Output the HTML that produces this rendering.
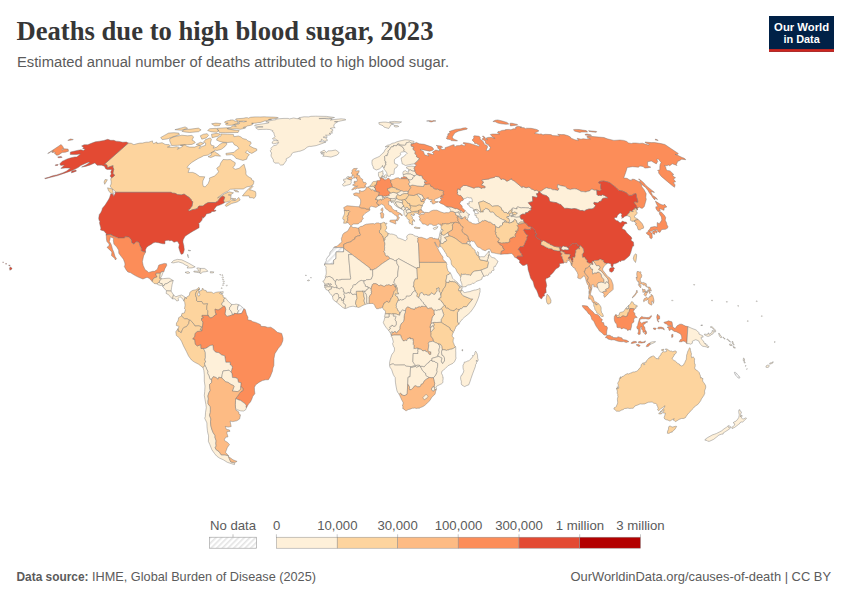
<!DOCTYPE html>
<html><head><meta charset="utf-8"><title>Deaths due to high blood sugar, 2023</title>
<style>
html,body{margin:0;padding:0;background:#fff;}
body{width:850px;height:600px;overflow:hidden;position:relative;font-family:"Liberation Sans",sans-serif;}
svg{position:absolute;left:0;top:0;}
text{font-family:"Liberation Sans",sans-serif;}
.title{font-family:"Liberation Serif",serif;font-weight:bold;font-size:26.6px;fill:#363636;}
.lg{font-size:13.2px;fill:#5b5b5b;}
.ft{font-size:13px;fill:#5b5b5b;}
</style></head><body>
<svg width="850" height="600" viewBox="0 0 850 600">
<defs>
<pattern id="hatch" width="4" height="4" patternUnits="userSpaceOnUse" patternTransform="rotate(45)"><rect width="4" height="4" fill="#fff"/><rect width="1.6" height="4" fill="#e4e4e4"/></pattern>
</defs>
<rect width="850" height="600" fill="#fff"/>
<text class="title" x="16.5" y="40.2" textLength="417" lengthAdjust="spacingAndGlyphs">Deaths due to high blood sugar, 2023</text>
<text x="17" y="66.5" font-size="14.7" fill="#5b5b5b" textLength="432" lengthAdjust="spacingAndGlyphs">Estimated annual number of deaths attributed to high blood sugar.</text>
<!-- logo -->
<g>
<rect x="769" y="16" width="65" height="35.8" fill="#002147"/>
<rect x="769" y="49.1" width="65" height="2.7" fill="#ce261e"/>
<text x="801.6" y="30.8" text-anchor="middle" font-size="11.6" font-weight="bold" fill="#fff" textLength="55" lengthAdjust="spacingAndGlyphs">Our World</text>
<text x="801.6" y="42.7" text-anchor="middle" font-size="11.6" font-weight="bold" fill="#fff" textLength="36.4" lengthAdjust="spacingAndGlyphs">in Data</text>
</g>
<!-- map -->
<g stroke="#6e6e6e" stroke-width="0.42" stroke-linejoin="round">
<path fill="#fdd49e" d="M128.3 143.1L131.3 143.3L133.9 144.7L136.6 143.8L139.9 143.1L142.4 143.1L146 142.2L148.5 142.2L152.5 140.9L152.6 142.2L153.6 143.6L157 142L156.9 143.6L162.1 142.7L165.2 144.4L169.2 144.7L170.4 146L167.4 147.1L172.5 147.3L176.5 146.7L179.3 147.3L177.4 149.3L180.8 147.5L183.2 145.8L180.3 145.3L185.1 144.7L186.9 146.4L189.7 147.1L194.8 147.1L197.6 145.8L198.8 145.3L200.6 146.2L199 148.2L199.6 148.9L201.4 146.7L205.5 145.3L205.7 143.1L203.5 142.2L205.5 139.6L210.3 137.9L211.4 139.4L210.6 142.2L210.5 143.3L211.4 145.3L214.3 146L213 148.2L216.9 147.1L219.7 144.4L222.7 142.7L226.7 142.9L226.7 144.4L224.8 146.7L221.3 149.3L217 150.5L214.8 150L214 151.2L210.9 153L208.1 155.1L203.7 155.7L201.6 156.9L198.2 158.5L195 160.4L191.7 162.5L188.6 165.2L187 167.6L187.6 168L189.7 168.3L188 172.4L192.7 172.4L195.7 173.6L199.8 176.6L204.8 176.8L202.8 181L202.7 184L203.4 186.5L205.3 186.8L208.2 183.5L209.7 179.8L209.4 178.1L214.4 176.1L217.2 173.6L218.6 171.7L216.7 168.3L220 165.6L220.5 163.3L223.1 159.5L227.1 159.7L230.4 159.5L232.6 161.1L235.3 162.8L234.9 165.2L232.9 167.6L235.2 169.3L239.1 168.3L242.2 165.6L244.1 164.2L244.5 165.9L245.4 168.8L246 171.7L245.9 174.1L247.4 176.1L249.4 177.3L251.4 178.3L251.6 179.8L253.9 181L253.6 183.5L253 184.8L250.3 186.3L247 186.8L243.2 189L239.2 189L235.2 189L230.3 189.3L227.3 191.6L224.7 192.6L221.7 194.6L217.5 197.9L220.4 196.6L224.4 193.8L229.2 191.8L233.5 192.8L230.6 194.9L228.3 194.9L231.2 195.4L230.8 197.2L230.7 199.5L231.9 200.2L235.7 200.5L238.7 197.4L240.2 200L237.1 202L231.5 203.6L226.5 206.4L225.2 205.6L226.7 203.6L230.2 201.8L229.6 201L226.8 202L224.6 202.3L224 201.8L223.6 200.5L224.7 197.2L223.9 196.5L222.2 196.3L219.9 198.2L218.5 200.2L217 201.8L215.3 202.5L208.7 202.5L207.2 203L204.6 204.6L203 206.1L199 206.1L198.1 206.9L197.9 208.2L195.2 209.2L192.3 209.7L189.5 211L188.3 210.3L188.5 209.7L190.1 208.7L190.7 207.7L192 206.1L192.8 201.8L191.3 200.5L191.4 199.7L190 198.7L189.6 197.7L187 196.1L184.1 194.1L181.3 194.9L177.5 194.6L175.1 193.3L172 193.1L171.2 192.3L114.6 192.3L115.5 191.6L113.3 189.8L111.3 187.8L110.1 186L111.2 184L111.2 181.5L110.7 179L111.3 177.8L113.2 176.8L114.7 175.1L112.8 173.5L113.4 170.7L113.8 169L113.1 167.9L112.8 166.9L113.1 165.7L110.4 166.5L107.3 167.8L107.2 166.2L107 165.2L105.9 164.5L104.2 164.4ZM107.5 187.8L112.4 189L113.4 193.8L110.6 193.1L108.6 190.8ZM105.1 179.5L107.4 179.8L104.7 184.3L104 182ZM242.4 195.9L245.3 192.3L248.8 188.5L252.4 185.8L253 186.5L249.5 190L251.1 190L255.4 191.6L255.9 193.3L255.8 196.1L254.1 198.4L252.3 197.7L249.6 197.7L249.1 195.9L246.1 195.9ZM231.3 198.2L236 198.8L234.4 200L232.2 199.2ZM233.8 190L237.6 190.8L238.8 192.1L235.3 191.6ZM221.1 133.9L227.3 134.2L233.4 134.4L233.9 136.7L238.4 136L240.9 136.9L242.9 138.6L246.4 139.4L247.9 140.9L250.6 141.8L251.2 143.6L249.2 145.5L253 147.8L256.7 148.9L256.8 150.5L251.8 153.4L248.9 152.3L247.3 150.5L245.4 152.3L249.4 154.6L247.4 156.9L246.7 159.2L242.9 160.4L239.8 159.5L235.9 158.3L234.4 156.2L231.8 154.6L226.3 155.1L225.9 153.4L234.1 152.3L236.3 150L239 148.4L237.1 146L234.5 144.9L232.6 142L227.8 142.5L223 142.2L219.6 141.4L216.5 140.1L217.5 137.9L221 135.8ZM211.3 152.5L214.7 151.4L216.3 152.8L218.8 154.4L220.6 156.2L215.2 155.7L210.8 157.6L208 156.7L211.1 155.3ZM169.7 140.9L170.9 143.8L171.6 145.5L177.7 145.3L185.1 144.7L187.6 144.7L192 144.4L195.3 142.7L194.2 141.2L192 140.1L193.6 136.9L191.9 135.4L187.5 135.8L181.8 135.2L173.5 136.9L169.7 138.8ZM160.7 137.5L162.2 139.6L167 139L175.3 136L179.4 134.6L178.8 133.1L173.9 132.7L168.6 133.1L164.4 135.4ZM200.3 135.8L201.8 139.2L206.2 137.9L208.6 135.4L207.2 133.7L203.6 134.2ZM211.5 134.2L212.1 137.7L218.2 136.2L220.5 134.2L217 133.3ZM196.2 144.4L200.3 145.5L203.8 143.3L200.6 142.2ZM181.9 131.3L184.3 131.9L189.7 132.5L198.5 131.7L201.1 129.9L198.4 128.1L191 129.1L184.1 129.7ZM207.6 130.5L210.9 131.7L216.5 132.3L218.7 130.9L216.3 128.3L209.8 128.7ZM174.9 129.7L181.7 130.3L187.6 128.3L185.1 126.9ZM217.1 128.3L219.4 132.5L225.4 132.7L238.1 132.5L239.2 130.5L234.2 130.1L227.8 128.9L227.6 127.7ZM278.2 117.7L277.8 118.1L273.8 118.8L270.1 119.1L268.5 119.5L271.5 119.5L267.3 120.5L264.5 121L260.7 122.4L257.5 122.7L256.2 123.1L251.6 123.3L253.4 123.5L252 123.8L252.4 124.7L250.3 125.4L247.5 125.9L246 126.7L243.4 127.3L243.1 127.7L245.8 127.6L245.4 128.1L240.2 129.3L236.7 128.8L232 129.1L229.9 128.8L227.2 128.7L228 127.8L231.3 127.3L232.1 125.9L233.2 125.8L236.2 126.6L235.6 125.4L233.6 125L235.6 124.3L238.5 124L239.8 123.2L238.6 122.5L239 121.6L242.8 121.7L243.7 121.9L246.6 121.3L243.7 121.1L238.6 121.2L236.8 120.6L236.5 119.9L235.4 119.4L235.9 118.9L238.3 118.6L240 118.5L243.1 118.3L245.8 117.7L247.4 117.7L248.4 118.2L250.4 117.3L252.5 117.1L255.2 116.9L259.4 116.9L259.9 117L264.1 116.8L267 116.9L269.8 117L273.3 117.1L276.1 117.3ZM234 120.8L237.9 121.5L237.7 122.7L238.7 123.2L236.1 123.8L231.8 125.2L229.1 125.3L226.3 125.1L225.6 124.3L226.5 123.6L228.2 123.2L225.6 123.2L224.7 122.6L224.8 121.8L226.8 121L228.5 120.5L230.1 120.4L230 120L233.4 119.9L234 120.8ZM211.6 123.8L214.7 125.9L219.4 125.7L220.8 123.5L215.5 123.1Z"/>
<path fill="#e34a33" d="M110.8 193.8L113.4 194.5L113.6 196.4L115 193.8L115.6 192.3L171.2 192.3L172 193.1L175.1 193.3L177.5 194.6L181.3 194.9L184.1 194.1L187 196.1L189.6 197.7L190 198.7L191.4 199.7L191.3 200.5L192.8 201.8L192 206.1L190.7 207.7L190.1 208.7L188.5 209.7L188.3 210.3L189.5 211L192.3 209.7L195.2 209.2L197.9 208.2L198.1 206.9L199 206.1L203 206.1L204.6 204.6L207.2 203L208.7 202.5L215.3 202.5L217 201.8L218.5 200.2L219.9 198.2L222.2 196.3L223.9 196.5L224.7 197.2L223.6 200.5L224 201.8L224.5 202.8L222 204.1L219.6 205.1L216.7 206.1L215.1 207.9L214 209.5L214.5 210.5L215.9 210.1L215.7 211L214.2 211.5L212.5 211.5L211.1 212.1L211.1 212.7L208.5 213.5L206.3 213.9L206.1 214.4L205.3 216.2L203 218.2L202.2 216.7L202.4 218.8L201.7 220.6L199.5 223L198.6 223.2L199.1 224.3L199.1 227.7L196.5 229.2L192.9 231.3L190.1 232.9L187.8 234.4L185.1 236.3L183.2 239.7L182.9 242L183.8 245.4L184.3 249.8L183.5 252.7L182.7 254L181.1 254.3L180 251.7L179.4 249.8L178.7 247.5L179.3 244.6L178.2 242.5L177.1 241.2L174 242.3L171.8 240.4L169.5 240.7L168.5 240.2L166.3 240.4L164.8 241L165 242L165 243.8L162.8 243.8L160.5 243.3L158.4 242.7L155.2 242.3L153 243.1L151.1 244.4L148.3 245.9L146.4 247.8L145.5 249.8L145.6 252.1L143.3 251.7L141.4 250.9L141.2 248L139.9 245.9L139.2 243.2L138.4 242.1L136.5 241.8L135.5 242.3L134 244.2L131.6 242.7L131.3 239.9L128.7 236.9L124.9 236.8L124.6 238L118.2 238L111.1 235L111.4 234.4L106 234.9L106.2 233.4L104.4 231.7L104.4 231.1L103 230.7L100.5 229.9L100.9 228.1L99.8 224.3L99.5 222.7L100 221.1L99.1 220.6L98.7 218.3L99.3 214.5L100.7 212.8L101.9 210.3L102.4 208.2L105.1 205.1L108.6 199.5L109.5 197.7ZM128.3 143.1L126.4 142L122.8 142.2L119 141.4L116 141.2L113.9 140.3L110.6 140.3L107.8 139.3L103.8 140.5L99.5 141.2L95.3 141.8L91.3 143.3L87.8 144.7L84.1 144.7L81.6 146L83.7 147.5L82.7 148.7L85.3 148.9L83.5 150.5L81 149.8L78.3 150.2L70.4 152.1L70.2 154.4L71.8 154.6L76 154.6L80.4 153.9L78.4 155.7L76.6 156.9L74.8 156.9L71 157.8L67.1 159L62 161.4L59.7 164L60.8 165.4L64.5 164.9L61.9 167.6L60.8 168.4L65.1 168L67.9 168L70.4 168.3L66.3 171.2L62.5 172.9L56.6 174.9L52.7 175.8L48.6 177.3L44.7 178.3L45.1 178.7L48.2 178.1L50 177.4L53.8 176.6L57.7 175.6L62.4 173.9L66.8 172.4L71.5 170.7L75.2 169L78.1 167.6L80.8 165.6L84.7 163.7L88.2 162.3L90 162.3L86.4 164.7L81.6 167.1L85.5 166.4L89.6 165.2L94.7 163L95.7 163.7L97 165.2L101.6 165.2L104.4 166.3L105.7 168.8L107.2 169.5L110.2 169.5L111.8 169.7L110.7 172L111.3 173.9L110 176.1L111 176.9L111.3 177.8L113.2 176.8L114.7 175.1L112.8 173.5L113.4 170.7L113.8 169L113.1 167.9L112.8 166.9L113.1 165.7L110.4 166.5L107.3 167.8L107.2 166.2L107 165.2L105.9 164.5L104.2 164.4ZM71.8 170.9L76 170L76.3 171.2L71.4 172.9ZM57.6 156.9L61.2 156.4L62.1 157.4L58.5 157.8ZM55.6 164.7L58.2 164.5L57.6 165.4L55.3 165.6ZM9.5 268.2L10.2 266.9L11.9 268.1L12 268.9L9.9 270.3ZM8.7 265.1L10.3 265.4L9.2 266ZM5.6 263.6L6.8 263.8L5.8 264.2ZM2.6 262L3.6 262L3.1 262.6Z"/>
<path fill="#fc8d59" d="M106 234.9L111.4 234.4L111.1 235L118.2 238L124.6 238L124.9 236.8L128.7 236.9L131.3 239.9L131.6 242.7L134 244.2L135.5 242.3L136.5 241.8L138.4 242.1L139.2 243.2L139.9 245.9L141.2 248L141.4 250.9L143.3 251.7L145.6 252.1L143.6 255.9L142.4 261.6L143.2 265.5L145.1 269.7L147.4 271.3L148.6 272.4L152.8 271.3L154.6 271.3L157.4 269.2L158.6 265.5L158.9 265L164.3 263.4L166.5 263.7L166.7 265.5L164.7 268.9L163.8 272L163 271.5L162.5 271.5L160.4 272.9L160.4 273.3L156.2 273.3L156 274.8L157.1 277L154.7 277.8L154 277.9L152.6 280L152.4 281.8L149.8 278.8L147.7 277.5L146.5 277.5L142.9 279L138.6 277.3L135.6 275.8L131.8 273.6L130.8 272.8L127.9 272L126.2 269.9L124.3 266.6L125 265L124.8 262.9L123.4 259.2L120.9 256.1L118.8 253.2L118.6 250.1L116.7 247L113.9 244.1L113.3 240.2L113.7 238.4L111.9 237.6L110.4 236.8L110 238.9L109.4 241.5L111 244.1L111.9 246.7L112.5 249.3L113.7 251.9L114.6 255.1L115.1 256.6L116.5 258.7L115.4 260L114.8 258.5L111.5 255.6L111.9 251.9L109.5 249.8L107 247.2L109 245.9L109.2 244.1L106.9 241.5L106.4 238.9L106.3 236.5Z"/>
<path fill="#fdd49e" d="M152.4 281.8L152.6 280L154 277.9L154.7 277.8L157.1 277L156 274.8L156.2 273.3L160.4 273.3L159.7 278.3L160.3 278.3L161.9 278.8L160.1 280.1L159.2 282.2L158.3 282.7L157 283.9L154.1 283.5Z"/>
<path fill="#fef0d9" d="M160.4 272.9L162.5 271.5L162.9 272.6L162 275.4L160.3 278.3L159.7 278.3Z"/>
<path fill="#fef0d9" d="M157 283.9L158.3 282.7L158.9 282.2L160.7 283.4L162.3 283.6L162.4 285.1L160.5 285.5L157.7 284.6Z"/>
<path fill="#fef0d9" d="M158.9 282.2L159.2 282.2L160.1 280.1L161.9 278.8L163.5 278.6L167 278.3L169.2 278.2L172.7 280.1L173.2 280.6L170.1 281.4L167.1 283.5L164.8 284L163.9 285.9L163 286L162.4 285.1L162.3 283.6L160.7 283.4Z"/>
<path fill="#fef0d9" d="M173.2 280.6L172.1 284.6L171.6 287.4L171.1 291.1L166.5 290.8L164.8 289L162.3 286.1L163 286L163.9 285.9L164.8 284L167.1 283.5L170.1 281.4Z"/>
<path fill="#fef0d9" d="M171.1 291.1L173.5 294.9L172.5 298.8L170.9 297.6L168.6 294.7L166.1 293.4L166.5 290.8Z"/>
<path fill="#fef0d9" d="M173.5 294.9L175.8 296.8L179.3 295.5L181.6 295L185.2 297.2L183.9 301L182.8 298.9L179.9 296.6L178.2 298.4L178.6 300.5L176.7 301L175.2 298.9L172.5 298.8Z"/>
<path fill="#fef0d9" d="M171.4 262.6L173.7 260.5L177.4 259.4L181.7 259.8L184.9 261.3L188.7 263.2L191.9 265L195.2 266.9L192 267.9L187 268L188.3 266.3L185.5 265L182.6 263.2L178.5 261.9L175.7 262.4L173.4 262.9Z"/>
<path fill="#fef0d9" d="M193.8 271.9L196.3 272.3L200 272.8L200.4 268.4L198.1 267.9L196.7 268.1L197.9 269.4L198.7 271.3L193.9 271.1Z"/>
<path fill="#fef0d9" d="M200.4 268.4L204.4 268.4L206.5 269.7L207.9 271.3L205.2 271.8L202.4 272L200.7 273.9L200 272.8Z"/>
<path fill="#fef0d9" d="M185 272.3L188.2 271.6L189.9 272.8L187.5 273.5Z"/>
<path fill="#fef0d9" d="M210.4 271.6L213.9 271.9L213.3 272.9L210.3 272.9Z"/>
<path fill="#fef0d9" d="M188.1 250.1L190.7 250.6L188.8 250.9ZM187.6 254.3L188.4 256.4L187.7 256.6ZM188.1 257.2L188.7 257.7L188.4 256.9Z"/>
<path fill="#fef0d9" d="M221 291.9L223.2 291.6L223 293.4L221 293.6Z"/>
<path fill="#fef0d9" d="M254.5 125.7L255.5 124.9L261.8 124L267.9 123.1L269.1 122.5L265.8 121.8L267.6 121.2L273.6 120L275.8 119.8L275.9 119.1L279.5 118.7L284 118.4L288.2 118.4L289.4 118.9L293.7 118L296.6 118.6L298.4 118.7L301 119.3L298.2 118.4L298.9 117.7L304.1 116.8L308.8 116.9L310.9 116.3L315.7 116.2L326.4 116.4L334.5 117.5L331.7 118.2L326.4 118.2L318.9 118.4L319.5 118.7L324.5 118.5L328.5 119L331.3 118.6L332.3 119.1L330.4 120.1L334.2 119.5L341.1 118.8L345.2 119.2L345.9 119.9L339.9 121.1L339 121.5L334.4 121.7L337.7 121.8L335.7 123.1L334.2 124.3L333.7 126.4L335.2 127.7L332.8 127.8L330.2 128.4L332.7 129.5L332.7 131.2L331 131.4L332.6 133.1L329.1 133.3L330.8 134.1L330.1 134.9L327.8 135.2L325.5 135.2L327.2 136.6L327 137.6L324.1 136.7L323.1 137.2L325.2 137.8L327 139.1L327.3 140.8L324.2 141.2L323.1 140.4L321.4 139.2L321.6 140.6L319.4 141.7L323.8 141.9L326 142L321.2 143.9L316.2 145.6L311.1 146.4L309.2 146.4L307.2 147.2L304.2 149.6L300 151.2L298.8 151.3L296.3 151.9L293.6 152.4L291.6 153.8L291.1 155.4L289.7 157L286.2 158.8L286.3 160.7L284.9 162.6L283.2 164.9L280.6 165.1L278.5 163.1L274.9 163.1L273.6 161.8L273.2 159.5L271.3 156.6L271 155.1L271.6 153L270.1 150.9L271.5 149.3L270.7 148.5L273.5 145.8L276.4 145L277.5 144.1L278.7 142.4L276.4 143.2L275.3 143.5L273.7 143.8L272 143.1L272.6 141.6L273.8 140.5L275.4 140.4L278.4 141L276.3 139.6L275.2 138.9L273.4 139.2L272.4 138.7L275.2 136.7L274.7 135.9L274.2 134.5L273.7 132.3L272.2 131.5L272.8 130.6L269.5 129.5L266.3 129.3L262.2 129.4L258.4 129.6L257.1 128.9L255.6 127.7L260 127.1L263.1 126.9L257.2 126.4Z"/>
<path fill="#fef0d9" d="M320.3 152.3L324.2 150.1L326.4 152.5L327.9 150.9L331.9 150.7L335.4 150L337.7 151.2L339.2 153L336.9 155.1L330.9 157.1L326.6 156.4L322.7 156.2L324.2 154.8L320.9 153.7L324.6 152.8Z"/>
<path fill="#fdd49e" d="M185.2 297.2L186.5 298.9L186.3 297.4L189.4 295.3L189.8 292.4L191.5 291.1L192.9 290.3L195.7 289.8L197.6 288.7L198.8 287.3L199.7 289L198 289.8L196.8 290.8L195.4 294.2L195.8 296L196.6 297.9L196.5 300.5L197.6 301.5L201.8 301.5L203.3 303.9L207.7 303.6L206.9 306L206.8 309.4L208 310.9L207.7 314.1L208.8 316.7L208.3 315.4L202.1 315.4L202.1 316.9L203.5 317.2L203 318.2L201.6 318.4L201.5 320.3L202.5 321.1L203 322.7L201.9 330.8L201.1 329.7L200.1 329.7L201.6 326.8L198.4 325.8L195 326.1L193.1 323.2L190.5 320.3L189.4 320.1L188.7 319.7L187.1 318.8L184.6 318.8L183.2 317.6L181.4 316L181.9 313.5L184.4 313L185.4 309.6L184.5 308.8L185.1 305.2L184.7 302.3L183.9 301Z"/>
<path fill="#fdd49e" d="M199.6 289.1L199.5 289.7L198.1 290L198.8 291.2L198.7 292.5L197.6 294L198.3 296.1L199.4 295.9L200 294.1L199.3 293.1L199.3 291.2L202.2 290.1L202 288.9L202.8 288.1L203.5 289.9L206.2 290.6L206.6 292.1L209.3 292.1L211.4 292.1L213.6 293.4L215.5 292.4L218.5 291.9L221 291.9L219.4 293.4L223 295L223.3 297.4L225.4 297.9L223.4 300L224.3 301.3L222.5 302.3L221.7 304.3L223.3 306.2L221.6 308.1L218.1 310.1L215.1 309.1L215.5 313.3L216.9 314.1L215.5 314.7L212 317.7L210.2 317.8L208.8 316.7L208.8 316.7L207.7 314.1L208 310.9L206.8 309.4L206.9 306L207.7 303.6L203.3 303.9L201.8 301.5L197.6 301.5L196.5 300.5L196.6 297.9L195.8 296L195.4 294.2L196.8 290.8L198 289.8L199.7 289Z"/>
<path fill="#fef0d9" d="M225.4 297.9L228.5 301.8L231.4 304.1L231.6 304.4L231.1 306L229.7 307.3L229.4 309.4L231 310.9L232.8 314.7L229.3 315.9L227.2 316.4L225.4 315.1L225 313.5L225.7 309.6L225.5 308.3L224.6 306.2L223.3 306.2L223.3 306.2L221.7 304.3L222.5 302.3L224.3 301.3L223.4 300L225.4 297.9Z"/>
<path fill="#fef0d9" d="M231.6 304.4L234.1 304.5L236.2 304.1L238.7 304.7L237.8 306.7L237.5 309.4L238.6 310.7L237.2 313.8L234.2 313.3L233.9 314.8L232.8 314.7L232.8 314.7L231 310.9L229.4 309.4L229.7 307.3L231.1 306L231.6 304.4Z"/>
<path fill="url(#hatch)" d="M238.7 304.7L241.2 306.2L244 308.8L241.8 313.3L239 313.8L237.2 313.8L237.2 313.8L238.6 310.7L237.5 309.4L237.8 306.7L238.7 304.7Z"/>
<path fill="#fdd49e" d="M181.4 316L178.6 317.7L178.3 319.8L177.4 322.1L176.5 322.7L176.3 325.5L178.6 326.3L179.1 326.6L178 328.7L178.1 331.3L179.7 331.5L181.1 332.9L182.4 329.7L183.7 327.6L186.5 326.6L188.7 323.7L189.4 320.1L188.7 319.7L187.1 318.8L184.6 318.8L183.2 317.6L181.4 316Z"/>
<path fill="#fdd49e" d="M178 328.7L175.8 331.8L176.4 335.5L179.2 337.8L181.5 341.2L183.5 345.9L186.3 351.3L188.6 356.1L191.5 360L194.4 362.1L198.5 364.2L200.9 366L203.1 367.7L205 365.5L204.5 362.9L205.8 362.1L204.9 359.7L205.4 357.6L205.3 352.4L203.5 348.4L201.1 348.5L200.9 344.6L197.3 345.9L195.4 344.3L194.7 339.1L192.9 339.1L193.5 337.8L194.8 336.8L195.2 333.4L197.4 331.5L201.8 331L201.9 330.8L201.1 329.7L200.1 329.7L201.6 326.8L198.4 325.8L195 326.1L193.1 323.2L190.5 320.3L189.4 320.1L189.4 320.1L188.7 323.7L186.5 326.6L183.7 327.6L182.4 329.7L181.1 332.9L179.7 331.5L178.1 331.3L178 328.7Z"/>
<path fill="#fc8d59" d="M244 308.8L245.3 309.6L246.6 314.6L248 317.2L247.7 319.8L251.4 320.6L252.3 321.6L255.8 322.4L260.4 324.5L260.9 326.3L265.1 326.6L267.8 327.4L270.8 327.2L274.3 329.5L277.3 332.3L281.7 333.4L283 338.3L282.8 340.9L281.1 345.1L278.2 348.5L274.9 353.7L274 358.4L273.9 365.5L272.9 368.1L272.4 371.5L271.8 372.8L270.4 376.4L268.4 379.7L265.7 379.8L262.4 380.6L258.9 382.4L255.5 385.1L254.4 387.4L254.5 390.3L254.9 393.7L252.8 396.3L251.8 399.2L250.3 402.3L248.5 403.9L246.4 407.9L245.9 406.2L246.3 405.2L244.2 403.1L240.3 400.3L239.4 400.2L235.6 398.6L237.1 396.8L239.1 393.9L240.8 391.6L242.9 390.5L242.9 388.2L240.7 386.6L241 382.7L238.4 382.3L237.7 378.8L235.3 377.7L232.4 377.5L232 373.8L231.2 372.4L231.2 371.5L232.4 367.3L231.6 365.6L230.1 364.7L230.2 362.3L225.8 362.3L224.7 355.8L221.7 355L218.8 352.7L215.6 352.2L213.4 349.8L212.9 345.1L210.1 345.6L207 347.7L205.3 348.5L203.5 348.4L201.1 348.5L200.9 344.6L197.3 345.9L195.4 344.3L194.7 339.1L192.9 339.1L193.5 337.8L194.8 336.8L195.2 333.4L197.4 331.5L201.8 331L201.9 330.8L201.9 330.8L203 322.7L202.5 321.1L201.5 320.3L201.6 318.4L203 318.2L203.5 317.2L202.1 316.9L202.1 315.4L208.3 315.4L208.8 316.7L210.2 317.8L212 317.7L215.5 314.7L216.9 314.1L215.5 313.3L215.1 309.1L218.1 310.1L221.6 308.1L223.3 306.2L223.3 306.2L224.6 306.2L225.5 308.3L225.7 309.6L225 313.5L225.4 315.1L227.2 316.4L229.3 315.9L232.8 314.7L233.9 314.8L234.2 313.3L237.2 313.8L239 313.8L241.8 313.3Z"/>
<path fill="#fef0d9" d="M205 365.5L206 367.3L206.7 369.4L207.8 371L207.6 373.3L209 375.9L210 379.3L211.6 379.3L213.3 376.7L215.9 377.5L218.1 379.3L218.8 377.2L221.7 377.9L222.2 374.6L223 371L229 370.2L231.2 372.4L231.2 371.5L232.4 367.3L231.6 365.6L230.1 364.7L230.2 362.3L225.8 362.3L224.7 355.8L221.7 355L218.8 352.7L215.6 352.2L213.4 349.8L212.9 345.1L210.1 345.6L207 347.7L205.3 348.5L203.5 348.4L203.5 348.4L205.3 352.4L205.4 357.6L204.9 359.7L205.8 362.1L204.5 362.9L205 365.5Z"/>
<path fill="#fef0d9" d="M221.7 377.9L222.2 374.6L223 371L229 370.2L231.2 372.4L231.2 372.4L232 373.8L232.4 377.5L235.3 377.7L237.7 378.8L238.4 382.3L241 382.7L240.7 386.6L240.8 389.2L238.3 391.3L237.3 391.6L232.3 391.1L234 386.6L233.6 385.6L231 384.5L228.1 382.4L225.8 381.9L221.7 377.9Z"/>
<path fill="#fef0d9" d="M246.4 407.9L245.8 409.6L243.7 411L240.8 410.9L237.1 409.7L235.5 408.3L235.3 404.6L235.5 400.7L235.6 398.6L235.6 398.6L239.4 400.2L240.3 400.3L244.2 403.1L246.3 405.2L245.9 406.2L246.4 407.9Z"/>
<path fill="#fef0d9" d="M203.1 367.7L203.9 370.7L204.3 374.6L204.3 381.1L205 386.1L204.7 391.6L204.3 395.5L205 399.4L205.9 404.6L206.3 407.5L205.5 412.5L205.3 416.6L204.7 418.2L206.9 422.9L207 426.8L207.4 430.6L207.8 433L208.6 435.8L208.4 441.4L209.9 444.7L211.9 449.8L214.6 453.6L216.7 456.1L219.5 458.1L223.3 459.8L227.3 462.3L231.8 463.8L234.5 464.6L234.7 463L230.8 462L228.4 456.5L228.5 455.7L225 454.8L221.2 454.8L219.1 451.6L216.3 449.8L215.1 447.8L216.2 446L215.8 443.2L216.2 440.9L214.9 437.1L215.2 435.8L213.2 432.7L211.8 429.3L210.8 425.5L210.5 421.6L210.9 419L209.5 415.3L210.3 412.5L210.4 409.3L210.3 406.7L208.1 403.9L208 401.2L208.4 398.9L207.9 396L208.9 392.9L210.3 390.3L209.8 388.4L209.5 384.5L211.7 382.4L211.6 379.3L211.6 379.3L210 379.3L209 375.9L207.6 373.3L207.8 371L206.7 369.4L206 367.3L205 365.5Z"/>
<path fill="#fdbb84" d="M211.6 379.3L213.3 376.7L215.9 377.5L218.1 379.3L218.8 377.2L221.7 377.9L221.7 377.9L225.8 381.9L228.1 382.4L231 384.5L233.6 385.6L234 386.6L232.3 391.1L237.3 391.6L238.3 391.3L240.8 389.2L240.7 386.6L240.7 386.6L242.9 388.2L242.9 390.5L240.8 391.6L239.1 393.9L237.1 396.8L235.6 398.6L235.6 398.6L235.5 400.7L235.3 404.6L235.5 408.3L235.9 410.1L238.8 411.9L239.1 414.3L240.5 414.8L239.6 419L236.8 420.8L232.7 421.6L230.1 421.1L230.8 424.7L231.2 426.5L228.2 427.1L225.3 426.4L226.3 429.3L229.4 429.9L229.9 431.4L227.2 431.4L226.9 433.2L228 436.8L225.7 437.3L224.4 439.6L224.7 440.7L227.3 442.2L229.5 444.5L227.2 447.8L226.4 450.1L225.5 452.3L228.5 455.7L225 454.8L221.2 454.8L219.1 451.6L216.3 449.8L215.1 447.8L216.2 446L215.8 443.2L216.2 440.9L214.9 437.1L215.2 435.8L213.2 432.7L211.8 429.3L210.8 425.5L210.5 421.6L210.9 419L209.5 415.3L210.3 412.5L210.4 409.3L210.3 406.7L208.1 403.9L208 401.2L208.4 398.9L207.9 396L208.9 392.9L210.3 390.3L209.8 388.4L209.5 384.5L211.7 382.4L211.6 379.3ZM228.4 456.5L230.8 462L235 462.4L237.1 461.4L233 459.8L229.6 457.3Z"/>
<path fill="#fdd49e" d="M344.3 210.6L344.6 213.1L344.1 214.9L343 217L342.7 218.7L343.3 219.6L344.2 219.6L344.1 220.9L343.6 223.2L346 223.2L347.1 222.7L346.9 221.7L348 220.1L347.4 218.8L348.1 217.8L347 216.3L348.3 215.4L348.6 213.1L349.9 211.3L349.1 210.5L347.9 210.5L346 210.8L345.8 210L344.3 210.6Z"/>
<path fill="#fdbb84" d="M344.3 210.6L344.3 209.2L343.6 207.7L345.5 206.6L347 205.7L350.9 206.1L355.1 206.5L359.2 206.8L360.1 207.5L361.5 207.9L364.5 208.2L366.6 209L369.7 209.1L369.9 209.5L369.7 210.5L367.6 211.8L364.9 213.6L362.6 216.2L362.4 217L363.4 218.7L361.9 219.8L361.5 221.7L359.6 222.5L358.3 223.9L355.4 224L353.5 224L351.5 225.4L350.9 225.8L349.4 224.4L349.2 223.8L347.9 222.7L347.1 222.7L346.9 221.7L348 220.1L347.4 218.8L348.1 217.8L347 216.3L348.3 215.4L348.6 213.1L349.9 211.3L349.1 210.5L347.9 210.5L346 210.8L345.8 210L344.3 210.6Z"/>
<path fill="#fdbb84" d="M359.2 206.8L360.5 203.6L360.7 201L360.5 199.5L358.5 196.9L357.3 196.1L354.1 195.4L353.4 193.8L355.9 192.8L359 193.2L359.8 193.2L359.2 190.6L360.4 190.6L360.8 191.4L363.2 191.1L365.8 189.5L366.2 187.5L368.1 187L369.4 187.9L371.4 189.8L372.6 189.4L374.6 190.9L375.9 191.2L379.5 192.4L378.5 195.9L377.3 196.4L375.5 199.5L376.9 198.9L377.4 200.2L377.6 201.8L376.6 202.3L377.5 204.3L379 204.8L378.6 205.7L377.4 206.6L376 207.4L374.1 206.9L372.8 206.6L371.3 206.3L370.3 206.9L369.4 207.9L369.7 209.1L369.7 209.1L366.6 209L364.5 208.2L361.5 207.9L360.1 207.5L359.2 206.8ZM381 209.2L382.5 207.7L383.1 210L382.4 211.8L381.1 210.5Z"/>
<path fill="#fef0d9" d="M368.1 187L369.6 186.3L371.5 186.4L372.9 186.1L374.6 186.9L374.3 187.8L375.2 188L375.8 189L375.2 189.5L374.6 190.9L372.6 189.4L371.4 189.8L369.4 187.9Z"/>
<path fill="#fef0d9" d="M374.6 190.9L375.2 189.5L376 190.3L375.9 191.2Z"/>
<path fill="#fdd49e" d="M369.6 186.3L370.1 185.8L370.9 184.8L372 183.3L372.3 182.4L373.5 181.5L376.5 181.3L377.1 181.8L376.8 183.1L376.2 183.5L376.9 184.1L376.2 185L374.8 185.1L375.3 186.3L374.7 187.2L374.9 187.9L374.3 187.8L374.6 186.9L372.9 186.1L371.5 186.4Z"/>
<path fill="#fc8d59" d="M377.1 181.8L376.8 180.8L378.6 180.5L379.6 180.9L379.7 180L380.5 180L380.2 179L379.7 177.6L382.1 177.8L382.3 178.5L384.1 178.8L384 179.8L385.3 179.8L386.5 179.4L387.2 178.7L388.9 178.2L389.8 179.5L390.6 180L390.9 181.5L390.7 182.6L391.7 183.8L392.2 185.8L392.8 187.3L392.4 187.6L391.4 187.3L388.9 188.5L387.2 189L388 190.3L389.1 191.6L390.9 193L389.3 194.1L389 194.6L389.4 195.6L387.8 195.8L385.4 196.4L384.3 196L383.8 196.6L382.5 196L380.5 195.5L378.5 195.9L379.5 192.4L375.9 191.2L376 190.3L375.2 189.5L375.8 189L375.2 188L374.9 187.9L374.7 187.2L375.3 186.3L374.8 185.1L376.2 185L376.9 184.1L376.2 183.5L376.8 183.1Z"/>
<path fill="#fef0d9" d="M379.7 177.6L378.5 176L378.4 173.6L378.5 172.4L380.9 171.9L382.9 170.6L382.9 172.4L382.6 173.4L383.7 173.9L382.5 174.9L382 176.3L381.5 177.3L382.1 177.8ZM384.2 175.6L385.9 174.6L387.1 175.6L386.6 176.8L386.2 178.1L384.6 177.9L384.5 176.6ZM381.8 176.1L383.5 176.1L383.6 177.2L382.2 177.2Z"/>
<path fill="#fef0d9" d="M375.5 199.5L377.3 196.4L378.5 195.9L380.5 195.5L382.5 196L382.4 197.3L384.3 197.7L384.3 198.6L383.7 199.3L382.1 198.9L381.5 200.4L380.2 199.2L379.2 200.1L377.4 200.2L376.9 198.9Z"/>
<path fill="#fef0d9" d="M382.5 196L383.8 196.6L384.3 196L385.4 196.4L387.8 195.8L389.4 195.6L389 194.6L389.3 194.1L390.9 193L393.2 192.3L397.1 193.1L397.7 194.6L396.4 196.4L396.5 197.4L395.7 198.2L392.9 198.8L391 198.7L388.4 198.2L387.7 197.3L385.5 197.9L384.3 197.7L382.4 197.3Z"/>
<path fill="#fdbb84" d="M378.6 205.7L379 204.8L377.5 204.3L376.6 202.3L377.6 201.8L377.4 200.2L379.2 200.1L380.2 199.2L381.5 200.4L382.1 198.9L383.7 199.3L384.3 198.6L384.3 197.7L385.5 197.9L387.7 197.3L388.4 198.2L391 198.7L390.5 199.5L391 200.5L391.4 201L390 200.9L388.4 201.5L388.8 202.8L388.5 204.6L389.8 205.2L391.3 206.3L392.3 208.4L393.9 210L395 210.5L396.9 210.5L396.5 211.5L398.7 212.6L401.1 213.8L402.3 215L402 216L401 214.8L399.2 214.1L398.3 215.2L398.3 216.5L399.6 218L398.3 218.8L398.4 219.6L397.5 220.8L396.6 220.6L396.8 219.1L397.4 218L396.5 215.7L395.5 215.3L394.6 214.8L393.5 213.9L392.8 213.2L391.7 212.2L389.6 211.7L388.7 210.9L387.6 209.9L386.3 209.2L385 207.8L384.5 206.3L383.5 205L381.5 204.1L380 205.1ZM389.7 221.1L390.3 220.2L391.6 220.1L396.4 219.9L395.5 221.9L396 223.2L395.6 224.1L393.8 223.2L392.1 222.5L389.9 221.7ZM380.2 213L382.4 212.2L383.8 214.1L383.4 217.8L381.9 218.3L380.9 217.5L380.8 214.7Z"/>
<path fill="#fdbb84" d="M351.6 189.7L354.7 186.8L357 186.8L357.7 185.8L356.7 186.3L354.7 185.9L352.5 185L354.9 183.5L355.1 182.5L353.8 182.8L354.6 181.9L354 181.3L357 181.4L357.2 180.3L357.4 179.5L356 178.5L357.2 177.4L353.5 178.2L354 176.1L353.6 175.1L351.9 176.6L352.3 174.4L351.2 173.1L352.2 171.7L352.1 170.3L353.7 168.5L357.4 168.4L355.5 170.3L355.5 170.9L359.2 170.7L359 172L358.2 173.6L356.7 174L358 174.1L356.7 174.9L359.2 175.3L360.1 177.3L360.9 178.3L362.8 179.5L362.6 180.8L363.7 182.3L363.4 182.8L364 182.4L365.5 182.4L366.4 183.5L365.6 185.3L364.4 186L365.8 186.4L365.7 187L364.8 187.5L363.5 187.9L361 187.9L359.2 188.3L358 188.4L357 188L355.7 189.3L354.6 188.9L352.6 189.9ZM347.2 178.7L348.7 179.4L350.2 179.7L351.3 179.8L352.5 178.8L352.3 178.1L351.5 176.8L349 177.2L348.5 178.1Z"/>
<path fill="#fef0d9" d="M343.2 185.8L344.2 186.1L346.6 185.3L350.4 184.3L351.3 182.5L351.1 181.4L351.3 179.8L350.2 179.7L348.7 179.4L347.2 178.7L348.5 178.1L349 177.2L348.8 176.5L347 176.9L346.2 178.3L346.3 179L343.6 179.2L343.7 181L345.4 181.8L344.4 182.5L343.6 183.4L342.5 184.5L342.9 185.3Z"/>
<path fill="#fef0d9" d="M383.6 167.3L382.5 166.8L382.5 165.4L382.1 166.6L381 167.6L379.3 169L376.2 170L373.4 168.3L373.2 166.8L372.2 164.7L371.9 162.5L372.2 160L374.6 158.5L377.3 157.4L379.8 156.2L381.8 153.9L383.9 152.3L384.9 150L386.9 147.8L389.2 146.2L385.1 146.9L387.4 145.3L389.9 144.7L392.2 143.3L394.4 142.9L396.9 141.8L400 140.9L401.9 140.5L405 139.8L408 139.9L409.7 140.3L414.1 141.4L412.8 142.7L414.5 143.2L411.6 144.2L411.5 144.3L411.9 143.4L410.9 142.8L409.3 142L407.8 142.5L406.2 142.9L406.1 143.6L406.1 144.4L404.9 145.3L402 145.2L400.7 145.1L398.6 143.8L397.4 144.3L397.4 144.3L396.8 145.8L393.5 145.5L393.4 146.7L391.3 146.9L390.5 148L389.5 150L388.1 150.9L388.3 152.8L387.1 154.4L387.8 154.7L387.1 155.7L385.5 155.7L384.5 156.7L384.8 158.1L384.9 161.1L386.4 162L385.8 162.7L385.2 162.8L386.1 164L386 164.9L384.8 165.5L384.6 166.1L384.9 167L384.2 167.8L383.6 167.3ZM378.8 122.6L383.1 122.1L385.9 122.1L388.9 122.6L393.7 124.2L390.9 124.8L389.9 126.7L388.7 128.5L384 127.1L383 125.7L379.1 124.2ZM389.5 121.9L394.3 121.4L401.6 121.9L399.2 123.1L391.9 123.1ZM394 125.3L397.8 125.7L398.8 126.5L395.9 127.1L394.3 126.5Z"/>
<path fill="#fef0d9" d="M383.6 167.3L383.9 169L385.4 170.7L386.7 172.7L387 174.4L387.2 174.7L387.9 176.3L390.2 176.3L390.6 176L390.1 175.1L391 174.5L393.5 174.4L394.1 173.3L394.3 170.2L394.7 168.5L396.5 167.6L397.8 165.4L397.7 164.8L394.6 163.5L394.3 161.1L394.5 159.5L396.1 158.1L399 156.4L400.9 154.6L400.1 153.4L401.6 152.1L404.9 151.6L403.9 150.5L404.2 149.3L403.3 148.2L402.7 146.9L400.1 145.5L397.4 144.3L397.4 144.3L396.8 145.8L393.5 145.5L393.4 146.7L391.3 146.9L390.5 148L389.5 150L388.1 150.9L388.3 152.8L387.1 154.4L387.8 154.7L387.1 155.7L385.5 155.7L384.5 156.7L384.8 158.1L384.9 161.1L386.4 162L385.8 162.7L385.2 162.8L386.1 164L386 164.9L384.8 165.5L384.6 166.1L384.9 167L384.2 167.8L383.6 167.3Z"/>
<path fill="#fef0d9" d="M404.9 151.6L407.3 153.2L406.1 154.4L403.5 156.7L401.1 158.1L401.4 160L402 162.8L402 163.7L403.8 164.5L405.4 165.5L409 164.8L411.6 164.2L413.9 163.9L415.8 162.3L417.3 160.9L419.6 158.3L416.4 156.4L416.9 155.3L415.1 153.9L415.3 151.8L412.9 149.1L414 147.3L411.2 146.2L411.4 144.8L411.5 144.3L411.9 143.4L410.9 142.8L409.3 142L407.8 142.5L406.2 142.9L406.1 143.6L406.1 144.4L404.9 145.3L402 145.2L400.7 145.1L398.6 143.8L397.4 144.3L397.4 144.3L400.1 145.5L402.7 146.9L403.3 148.2L404.2 149.3L403.9 150.5L404.9 151.6Z"/>
<path fill="#fef0d9" d="M406.4 167.1L408.7 166.4L411.1 166.1L414.9 166.5L414 168L414.5 169.5L414.5 171.1L412.9 171.2L410.4 169.9L408.7 170.3L408.8 169.1L406.8 168.4Z"/>
<path fill="#fef0d9" d="M408.7 170.3L410.4 169.9L412.9 171.2L414.5 171.1L415.5 171.7L416.8 174.5L415.8 175.3L413.9 175.7L410.6 174.1L406.4 173.9L403.2 174.7L402.8 172.9L403.4 171.4L405.5 170.6L406.8 171.7L408.6 172.3Z"/>
<path fill="#fef0d9" d="M403.2 174.7L406.4 173.9L410.6 174.1L413.9 175.7L414.5 176.6L412.7 177.6L412.6 179L410.4 180L408.6 179.9L408.5 179.3L407.1 178.8L406.7 177.4L405.3 177.1L403.8 176.7L403.4 175.6Z"/>
<path fill="#fc8d59" d="M401 178.7L401.3 177.4L402.3 177.4L403.8 176.7L405.3 177.1L406.7 177.4L407.1 178.8Z"/>
<path fill="#fdbb84" d="M390.6 180L394 179.2L395.8 178.1L398.3 177.7L399.3 178.3L399.2 178.8L401 178.7L407.1 178.8L408.5 179.3L408.6 179.9L409.8 182.3L408.6 184L409.8 186L410.9 187.7L410.1 188.8L408.4 191.1L408.4 192.1L406.2 191.3L403.2 191.8L402.1 190.8L400.8 191L399 189.8L396.7 188.7L395.3 188.2L392.8 187.3L392.2 185.8L391.7 183.8L390.7 182.6L390.9 181.5Z"/>
<path fill="#fdd49e" d="M387.2 189L388.9 188.5L391.4 187.3L392.4 187.6L392.8 187.3L395.3 188.2L396.7 188.7L396.4 189.5L399 189.8L400.8 191L399.4 192.1L397.7 192.7L397.1 193.1L393.2 192.3L390.9 193L389.1 191.6L388 190.3Z"/>
<path fill="#fef0d9" d="M397.1 193.1L397.7 192.7L399.4 192.1L400.8 191L402.1 190.8L403.2 191.8L406.2 191.3L408.4 192.1L407.8 193.8L406.5 193.6L404.4 193.6L401.5 194.6L401.2 195.4L399.2 195.5L397.7 194.6Z"/>
<path fill="#fdd49e" d="M397.7 194.6L399.2 195.5L401.2 195.4L401.5 194.6L404.4 193.6L406.5 193.6L407.8 193.8L409.4 194.9L407.8 196.4L406.4 198.9L404.6 199.6L401.8 200.2L399.4 200.1L396.8 198.7L395.9 197.8L396.5 197.4L396.4 196.4Z"/>
<path fill="#fef0d9" d="M391 198.7L392.9 198.8L395.7 198.2L395.9 197.8L396.8 198.7L395.2 199.5L395.1 200.5L394.5 201.4L393.1 201L391 201.4L391.4 201L391 200.5L390.5 199.5Z"/>
<path fill="#fef0d9" d="M391 201.4L393.1 201L394.5 201.4L395.1 200.5L395.2 199.5L396.8 198.7L399.4 200.1L401.8 200.2L403 202L402.3 202.9L398.1 202L395.6 202L395.6 203L397.4 206.1L399.8 207.7L401.7 208.8L401.8 209.2L398.5 207.7L396.4 206.4L394.6 204.8L393.8 202.5L392.5 201.8L391.8 203L390.8 201.4Z"/>
<path fill="#fef0d9" d="M395.6 203L395.6 202L398.1 202L402.3 202.9L402.6 204.3L403.8 205.4L403.6 206.1L402 207L401.7 208.8L399.8 207.7L397.4 206.1Z"/>
<path fill="#fdd49e" d="M402.3 202.9L403 202L401.8 200.2L404.6 199.6L407.4 202.1L407.3 203L410 203.8L409.6 205.1L410.9 207.2L410 209.4L408.3 209.6L408.4 208.4L406.9 207.2L405.5 208.1L403.2 206.4L403.6 206.1L403.8 205.4L402.6 204.3Z"/>
<path fill="#fef0d9" d="M405.1 208.7L406.3 210.5L408.3 209.6L408.4 208.4L406.9 207.2L405.5 208.1Z"/>
<path fill="#fef0d9" d="M401.7 208.8L402 207L403.6 206.1L403.2 206.4L405.5 208.1L405.1 208.7L403.7 210.6L401.8 209.2Z"/>
<path fill="#fef0d9" d="M403.7 210.6L405.1 208.7L406.3 210.5L406.3 212.1L407.4 213.2L407 215.2L405.6 216.2L404.1 214.4L403.9 211.8Z"/>
<path fill="#fef0d9" d="M406.3 210.5L408.3 209.6L410 209.4L411.5 211.9L410.9 212.5L407.4 213.2L406.3 212.1Z"/>
<path fill="#fdd49e" d="M405.6 216.2L407 215.2L407.4 213.2L410.9 212.5L411.5 211.9L414.6 211.4L418.4 211L419.1 211.9L418.1 213.5L415.9 213L414.6 213L413.8 213.6L414.8 215L413.3 214.9L413.8 215.6L412.6 215.4L411.8 214.4L411.5 213.9L411 215.4L412.7 217.5L411.9 218L412.8 219.1L414.4 220.1L414.7 221.5L413.4 220.6L412.4 220.9L412.9 222.2L412 221.9L413 224.7L411.6 224.8L410.6 223.5L409.8 223.8L408.8 221.7L409.5 219.8L408.2 219.6L407.2 218.4L407.3 217.8L406 216.7ZM414 227.7L415.2 226.9L417.2 227.4L420.1 227.7L419.9 228.4L416.7 228.6L414.1 227.8Z"/>
<path fill="#fdd49e" d="M410.1 204.6L409.6 205.1L410.9 207.2L410 209.4L411.5 211.9L414.6 211.4L418.4 211L419.8 210.3L421.9 210.3L420.7 209L421.4 208.4L421.5 207.2L422.5 205.8L419.1 204.7L416.1 206L413 205.9L410.6 205.5Z"/>
<path fill="#fdd49e" d="M404.6 199.6L406.4 198.9L407.8 196.4L409.4 194.9L413.6 195.5L416.9 194.2L420.5 198.4L421.1 201.4L424.2 201.6L424.2 203L422.5 204.6L422.5 205.8L419.1 204.7L416.1 206L413 205.9L410.6 205.5L410.1 204.6L410 203.8L407.3 203L407.4 202.1Z"/>
<path fill="#fef0d9" d="M416.9 194.2L418.6 193.7L420.8 194.6L422.3 195.1L423.4 197.4L424.7 198.9L422.4 199.2L422.5 200L421.1 201.4L420.5 198.4Z"/>
<path fill="#fdbb84" d="M407.8 193.8L408.4 192.1L408.4 191.1L410.1 188.8L410.9 187.7L409.8 186L412.3 185L417.4 185.9L421 186.3L423.5 186.5L424 184.6L425.7 184.5L426.7 184L429.5 183.9L431 185.4L430.4 185.6L432.6 186.8L434.1 188.9L437.9 189L439.1 190L443.5 190.8L443.3 192.8L443.6 195.2L441.8 195.2L440.9 197.2L439.5 197.3L437.6 198.2L435.1 199.1L434.8 199.7L434.4 199.6L433.9 200L435.8 201.6L438.2 201.5L437.4 202.5L436.1 202.5L434.3 203.7L433 204.1L432.2 203.6L432.1 202L430 201.6L432.1 200.4L432.1 199.6L429.7 199.7L427.5 198.4L428.4 197.7L426.4 198.4L426 198.7L424.9 200.5L424.2 201.6L421.1 201.4L422.5 200L422.4 199.2L424.7 198.9L423.4 197.4L422.3 195.1L420.8 194.6L418.6 193.7L416.9 194.2L413.6 195.5L409.4 194.9Z"/>
<path fill="#fef0d9" d="M408.6 179.9L410.4 180L412.6 179L412.7 177.6L414.5 176.6L413.9 175.7L415.8 175.3L416.8 174.5L419.3 175.6L422.2 175.8L422.4 177.8L426.8 181.1L426.3 181.8L424.3 181.8L425.7 184.5L424 184.6L423.5 186.5L421 186.3L417.4 185.9L412.3 185L409.8 186L408.6 184L409.8 182.3Z"/>
<path fill="#fef0d9" d="M433.2 228.3L434.6 227.5L438 226.6L436.9 228.5L434.8 229.5L433.5 229.1Z"/>
<path fill="#fdbb84" d="M351.8 226.5L353 227.6L355.1 227.4L357.4 228L358.3 228L359.1 229.7L359.2 231.3L360 234L360.5 234.6L360.1 235.6L357.2 236L356.2 237L355 237.2L354.9 239.1L352.3 240.2L351.4 241.5L349.6 242.2L347.4 242.6L343.7 244.5L343.7 247.6L333.7 247.6L334.9 246.6L337 246.3L338.8 244.5L339.9 243.8L341.8 241.7L341.4 238.4L342.3 236.2L342.6 234.8L344 233L346.3 231.8L347.9 230.8L349.4 228.1L350.2 226.5Z"/>
<path fill="url(#hatch)" d="M333.7 247.6L343.7 247.6L343.7 248.5L343.6 251.9L336.1 251.9L336 258.6L333.7 260L333.6 264.1L324.7 264.1L324.5 265.2L324.6 263.9L326.4 260.6L326.2 259.7L327.1 257.9L328.3 256.2L329.1 255.8L329.8 254.3L329.8 252.9L330.7 251.3L332.2 250.3L333.7 247.7Z"/>
<path fill="#fdbb84" d="M343.7 244.5L347.4 242.6L349.6 242.2L351.4 241.5L352.3 240.2L354.9 239.1L355 237.2L356.2 237L357.2 236L360.1 235.6L360.5 234.6L360 234L359.2 231.3L359.1 229.7L358.3 228L360.4 226.6L362.7 226.1L364.1 225.1L366.2 224.2L369.8 223.8L373.4 223.6L374.5 224L376.5 222.9L378.8 222.9L379.7 223.5L381.1 223.4L380.8 224.7L381.2 227.2L380.7 229.3L379.4 230.8L379.6 232.8L381.5 234.3L381.5 234.9L382.9 236L384 240.7L384.8 243L384.9 244.2L384.5 246.3L384.7 247.5L384.5 249L384.7 250.6L383.9 251.7L385.2 253.6L385.3 254.7L386.1 256.2L387.2 255.7L389 256.9L390 258.5L382.4 263.5L375.9 268.6L372.7 269.8L370.2 270L370.1 268.4L367.1 266L359.5 260.3L352 254.6L343.6 248.3L343.7 247.6Z"/>
<path fill="#fdd49e" d="M384 240.7L382.9 236L381.5 234.9L381.5 234.3L379.6 232.8L379.4 230.8L380.7 229.3L381.2 227.2L380.8 224.7L381.1 223.4L383.5 222.3L385 222.6L385 224L386.8 223L386.9 223.5L385.9 224.8L385.9 226L386.7 226.6L386.5 228.9L385.1 230.2L385.6 231.6L386.7 231.7L387.3 232.9L388.2 233.3L388.1 235.3L387 236.1L386.4 236.9L384.9 237.9L385.2 239L385 240.1Z"/>
<path fill="#fef0d9" d="M388.2 233.3L390.8 234.2L391.7 234L393.5 234.4L396.5 235.6L397.6 237.9L399.6 238.4L402.8 239.5L405.2 240.8L406.2 240.1L407.2 238.9L406.6 236.9L407.2 235.6L408.7 234.4L410.2 234.1L413.2 234.6L414.1 235.8L414.9 235.8L415.6 236.2L417.8 236.5L418.4 237.4L417.7 238.6L418.1 239.8L417.7 241.4L418.5 243.5L419 252.8L419.4 262.4L419.6 267.6L417 267.6L417 268.7L407.8 263.7L398.7 258.7L396.5 260.1L394.9 261.1L393.6 259.7L390 258.5L389 256.9L387.2 255.7L386.1 256.2L385.3 254.7L385.2 253.6L383.9 251.7L384.7 250.6L384.5 249L384.7 247.5L384.5 246.3L384.9 244.2L384.8 243L384 240.7L385 240.1L385.2 239L384.9 237.9L386.4 236.9L387 236.1L388.1 235.3Z"/>
<path fill="#fdbb84" d="M418.4 237.4L421.3 237.3L423.5 238L425.8 238.8L426.8 239.2L428.4 238.4L429.3 237.7L431.2 237.4L432.8 237.8L433.5 239.1L434 238.2L435.8 238.8L437.5 239L438.5 238.3L440.4 242.8L439.9 243.8L439.6 245.8L439.1 247.2L438.6 247.6L437.8 246.8L436.7 245.6L434.8 241.9L434.6 242.1L435.7 244.9L437.3 247.5L439.3 251.6L440.2 253L441.1 254.5L443.2 257.3L442.8 257.8L443 259.5L445.8 261.9L446.2 262.4L437.2 262.4L428.5 262.4L419.4 262.4L419 252.8L418.5 243.5L417.7 241.4L418.1 239.8L417.7 238.6Z"/>
<path fill="#fef0d9" d="M324.5 265.2L324.7 264.1L333.6 264.1L333.7 260L336 258.6L336.1 251.9L343.6 251.9L343.7 248.5L343.6 248.3L352 254.6L348.5 254.6L349.5 265.9L350.5 277.2L350.9 277.5L350.4 279.3L341.2 279.4L340.9 280L340 279.8L338.7 280.3L337.1 279.6L336.4 279.6L336 281.2L335.2 281.6L333.7 279.9L332.4 277.9L330.9 277.3L329.8 276.5L328.5 276.5L327.4 277.1L326.3 276.8L325.5 277.7L325.3 276.3L326 275L326.3 272.5L326.1 269.9L325.9 268.7L326.1 267.4L325.6 266.1Z"/>
<path fill="#fef0d9" d="M352 254.6L359.5 260.3L367.1 266L370.1 268.4L370.2 270L372.7 269.8L372.7 275.8L371.3 279.2L369.3 279.6L366.2 279.8L365.3 280.7L363.8 280.8L362.4 280.9L361.8 280.3L360.6 280.7L358.4 281.8L358 282.6L356.2 283.8L355.9 284.5L354.9 285L353.8 284.6L353.2 285.3L352.9 287.1L351 289.2L351.1 290.1L350.5 291.2L350.6 292.7L349.6 293.1L349.1 293.4L348.8 292.3L348.1 292.6L347.7 292.6L347.3 293.3L345.5 293.3L344.9 292.9L344.6 293.1L343.9 292.4L344 291.6L343.7 291.3L343.2 291.6L343.3 290.7L343.8 290.1L342.9 289L342.6 288.2L342.1 287.7L341.6 287.6L341.1 288L340.3 288.3L339.7 288.9L338.7 288.7L338.1 288L337.7 287.9L337.1 288.3L336.8 288.3L336.6 287.3L336.7 286.5L336.6 285.5L335.7 284.8L335.3 283.3L335.2 281.6L336 281.2L336.4 279.6L337.1 279.6L338.7 280.3L340 279.8L340.9 280L341.2 279.4L350.4 279.3L350.9 277.5L350.5 277.2L349.5 265.9L348.5 254.6Z"/>
<path fill="#fef0d9" d="M363.8 280.8L365.3 280.7L366.2 279.8L369.3 279.6L371.3 279.2L372.7 275.8L372.7 269.8L375.9 268.6L382.4 263.5L390 258.5L393.6 259.7L394.9 261.1L396.5 260.1L397.1 264.2L398 264.9L398 265.7L399 266.6L398.5 267.7L397.8 273L397.7 276.4L394.9 278.9L393.9 282.3L394.9 283.3L394.9 285L396.4 285L396.2 286.2L395.5 286.4L395.5 287.2L395 287.3L393.5 284.4L392.9 284.3L391.1 285.8L389.4 285L388.1 284.8L387.5 285.2L386.1 285.1L384.8 286.3L383.6 286.3L380.8 285L379.8 285.6L378.6 285.6L377.7 284.6L375.4 283.6L373 283.9L372.4 284.5L372.1 286L371.4 287L371.3 289.4L369.5 287.9L368.7 287.9L367.9 288.6L368 286.8L365.3 286.3L365.3 285L364 283.3L363.7 282.1Z"/>
<path fill="#fef0d9" d="M396.2 286.2L396.4 285L394.9 285L394.9 283.3L393.9 282.3L394.9 278.9L397.7 276.4L397.8 273L398.5 267.7L399 266.6L398 265.7L398 264.9L397.1 264.2L396.5 260.1L398.7 258.7L407.8 263.7L417 268.7L417.5 279.1L415.5 278.9L414.5 280.8L413.9 282.4L414.4 283L413.7 283.8L414 284.9L413.4 286L413.2 286.9L414 286.8L414.5 287.8L414.6 289.3L415.4 290.1L415.4 290.7L414 291.2L412.8 292.2L411.2 295.1L409.1 296.3L406.8 296.1L406.2 296.4L406.4 297.3L405.3 298.2L404.3 299.2L401.4 300.2L400.8 299.6L400.4 299.6L400 300.2L398.1 300.4L398.5 299.7L397.7 297.9L397.4 296.8L396.4 296.4L395 294.9L395.5 293.6L396.6 293.9L397.2 293.7L398.5 293.8L397.2 291.4L397.3 289.6L397.1 287.9Z"/>
<path fill="#fdd49e" d="M446.2 262.4L447.1 264.9L446.6 265.4L447.1 268.1L448.1 271.2L449 271.9L450.3 272.8L449.2 274.3L447.6 274.7L446.9 275.5L446.7 277.3L445.9 281.1L446.2 282.2L445.9 284.4L445.1 287L443.8 288.3L442.8 290.3L442.6 291.3L441.6 292.1L441 294.8L441 295.1L440.6 295.1L440.7 293.8L440.4 292.8L439.2 291.8L438.8 289.9L439.1 288L438 287.8L437.8 288.4L436.5 288.6L437 289.3L437.3 290.9L436.1 292.3L435 294.2L433.8 294.5L431.8 292.9L431 293.5L430.8 294.2L429.6 294.7L429.5 295.3L427.2 295.3L426.9 294.7L425.2 294.6L424.4 295.1L423.8 294.9L422.6 293.3L422.2 292.6L420.5 293L419.9 294.2L419.4 296.5L418.6 297L417.9 297.3L417.7 297.2L416.9 296.4L416.7 295.6L417.1 294.5L417 293.5L415.7 291.8L415.4 290.7L415.4 290.1L414.6 289.3L414.5 287.8L414 286.8L413.2 286.9L413.4 286L414 284.9L413.7 283.8L414.4 283L413.9 282.4L414.5 280.8L415.5 278.9L417.5 279.1L417 268.7L417 267.6L419.6 267.6L419.4 262.4L428.5 262.4L437.2 262.4Z"/>
<path fill="#fef0d9" d="M441 295.1L441.1 297.1L440.7 297.9L439.5 298L438.7 299.5L440.2 299.7L441.4 300.9L441.8 302L442.8 302.6L444.3 305.4L442.7 307.1L441.3 308.7L439.9 309.9L438.3 309.9L436.4 310.5L435 309.9L434 310.6L432 308.9L431.4 307.8L430.2 308.3L429.1 308.2L428.5 308.6L427.4 308.3L426 306.1L425.6 305.3L423.9 304.3L423.3 302.7L422.3 301.6L420.8 300.2L420.7 299.4L419.5 298.3L417.9 297.3L418.6 297L419.4 296.5L419.9 294.2L420.5 293L422.2 292.6L422.6 293.3L423.8 294.9L424.4 295.1L425.2 294.6L426.9 294.7L427.2 295.3L429.5 295.3L429.6 294.7L430.8 294.2L431 293.5L431.8 292.9L433.8 294.5L435 294.2L436.1 292.3L437.3 290.9L437 289.3L436.5 288.6L437.8 288.4L438 287.8L439.1 288L438.8 289.9L439.2 291.8L440.4 292.8L440.7 293.8L440.6 295.1Z"/>
<path fill="#fef0d9" d="M450.3 272.8L451.8 275.8L452.5 278.2L453.8 279.5L457.1 282L458.4 283.5L459.7 285L460.4 285.9L461.6 286.7L460.9 287.3L459.9 287.1L459.1 286.2L458.1 284.7L457.1 283.9L456.5 282.9L454.4 281.9L452.8 281.9L452.3 281.3L451 281.9L449.5 280.8L448.9 282.7L446.2 282.2L445.9 281.1L446.7 277.3L446.9 275.5L447.6 274.7L449.2 274.3Z"/>
<path fill="#fef0d9" d="M461.6 286.7L462.2 287.5L462.2 288.6L460.9 289.2L461.9 289.9L461.1 291.3L460.5 290.8L460 291L458.7 291L458.7 290.1L458.5 289.4L459.2 288.2L459.9 287.1L460.9 287.3Z"/>
<path fill="#fdd49e" d="M446.2 282.2L448.9 282.7L449.5 280.8L451 281.9L452.3 281.3L452.8 281.9L454.4 281.9L456.5 282.9L457.1 283.9L458.1 284.7L459.1 286.2L459.9 287.1L459.2 288.2L458.5 289.4L458.7 290.1L458.7 291L460 291L460.5 290.8L461.1 291.3L460.6 292.2L461.5 293.6L462.4 294.9L463.3 295.8L470.9 298.9L472.8 298.9L466.5 306.7L463.5 306.9L461.5 308.7L460 308.8L459.4 309.6L457.8 309.6L456.9 308.7L454.8 309.8L454.1 310.9L452.6 310.7L452.1 310.4L451.6 310.4L450.8 310.4L447.9 308.2L446.3 308.2L445.5 307.3L445.5 305.9L444.3 305.4L442.8 302.6L441.8 302L441.4 300.9L440.2 299.7L438.7 299.5L439.5 298L440.7 297.9L441.1 297.1L441 295.1L441 294.8L441.6 292.1L442.6 291.3L442.8 290.3L443.8 288.3L445.1 287L445.9 284.4Z"/>
<path fill="#fef0d9" d="M461.9 289.9L462.6 290.4L463.1 291.5L464.2 292.5L465.3 292.5L467.5 291.9L470 291.6L472 290.7L473.1 290.6L473.9 290.1L475.2 290L475.9 290L477 289.6L478.2 289.3L479.2 288.4L480.1 288.4L480.1 289.1L480 290.6L480.1 292L479.6 293L479.1 295.8L478.1 298.7L476.7 302.1L474.8 305.9L472.9 308.8L470.3 312.3L468 314.4L464.6 317.1L462.5 319L459.9 322.2L459.4 323.6L458.9 324.2L457.5 322L457.4 312.5L459.4 309.6L460 308.8L461.5 308.7L463.5 306.9L466.5 306.7L472.8 298.9L470.9 298.9L463.3 295.8L462.4 294.9L461.5 293.6L460.6 292.2L461.1 291.3Z"/>
<path fill="#fdd49e" d="M458.9 324.2L457.2 325.2L456.7 326.3L455.8 326.5L455.4 328.4L454.7 329.4L454.2 331.2L453.3 332L450 329.4L449.9 327.9L441.5 322.6L441.2 322.3L441.1 319.5L441.8 318.4L442.9 316.7L443.8 314.8L442.7 311.8L442.4 310.5L441.3 308.7L442.7 307.1L444.3 305.4L445.5 305.9L445.5 307.3L446.3 308.2L447.9 308.2L450.8 310.4L451.6 310.4L452.1 310.4L452.6 310.7L454.1 310.9L454.8 309.8L456.9 308.7L457.8 309.6L459.4 309.6L457.4 312.5L457.5 322Z"/>
<path fill="#fef0d9" d="M441.3 308.7L442.4 310.5L442.7 311.8L443.8 314.8L442.9 316.7L441.8 318.4L441.1 319.5L441.2 322.3L436.5 322.5L433.9 322.4L433.1 322.7L431.7 323.6L431.2 323.3L431.2 321.3L431.7 320.3L431.9 318.2L432.4 317L433.2 315.7L434.1 315L434.8 314.1L433.9 313.7L434 310.6L435 309.9L436.4 310.5L438.3 309.9L439.9 309.9Z"/>
<path fill="#fdd49e" d="M441.2 322.3L441.5 322.6L449.9 327.9L450 329.4L453.3 332L452.2 335.2L452.3 336.7L453.7 337.7L453.8 338.3L453.1 339.9L453.2 340.7L453 342L453.8 343.6L454.7 346.2L455.5 346.7L453.6 348.3L451.1 349.3L449.7 349.2L448.9 350L447.3 350.1L446.7 350.4L443.9 349.7L442.2 349.9L441.7 346.3L440.9 345.1L440.5 344.4L438.2 343.9L436.9 343.1L435.5 342.7L434.6 342.2L433.6 341.6L432.5 338.3L431.1 336.8L430.7 335.3L430.9 333.9L430.6 331.5L431.5 331.4L432.4 330.5L433.3 329.1L433.8 328.6L433.8 327.7L433.4 327.1L433.2 326.1L433.9 325.8L434 324.2L433.1 322.7L433.9 322.4L436.5 322.5Z"/>
<path fill="#fef0d9" d="M433.1 322.7L434 324.2L433.9 325.8L433.2 326.1L432 325.9L431.3 327.4L429.9 327.2L430.1 325.8L430.4 325.6L430.5 324L431.2 323.3L431.7 323.6Z"/>
<path fill="#fef0d9" d="M430.6 331.5L430.5 328.4L429.9 327.2L431.3 327.4L432 325.9L433.2 326.1L433.4 327.1L433.8 327.7L433.8 328.6L433.3 329.1L432.4 330.5L431.5 331.4Z"/>
<path fill="#fdbb84" d="M434 310.6L432 308.9L431.4 307.8L430.2 308.3L429.1 308.2L428.5 308.6L427.4 308.3L426 306.1L425.2 306.4L423.8 306.4L422 306.1L421.2 306.3L420.9 306.9L420.1 307L419.2 306.5L416.7 307.8L415.6 307.5L415.3 307.7L414.6 309.3L412.9 308.8L411.2 308.5L409.7 307.6L407.8 306.7L406.6 307.5L405.7 308.8L405.5 310.7L405.4 312.2L404.7 313.6L404.3 315.3L404 317.6L404.1 319L403.7 320L403.7 320.9L403.4 321.7L401.9 323L400.8 324.3L399.8 326.9L399.9 329L399.3 329.9L397.9 331.1L396.6 332.8L395.7 332.3L395.6 331.6L394.3 331.5L393.5 332.5L392.9 332.3L392.1 332.8L391.7 333.5L391.6 334.6L391 334.9L391.3 335.7L392.3 335.4L393 335.4L393.8 335.1L400.6 335.1L401.1 337.1L401.8 338.6L402.3 339.5L403.2 340.9L404.7 340.7L405.4 340.3L406.7 340.7L407.1 340L407.7 338.5L409.1 338.4L409.2 337.9L410.4 337.9L410.2 338.9L413 338.8L413 340.5L413.4 341.5L413.1 343.1L413.2 344.6L414 345.6L413.8 348.7L414.4 348.5L415.4 348.6L416.8 348.2L417.8 348.3L418.6 348.4L418.7 349.2L419.8 349.1L421.3 349.4L422 350.5L423.8 350.9L425.2 350.1L425.7 351.5L427.5 351.8L428.3 352.9L429.2 354.4L430.9 354.4L430.8 351.6L430.2 352.1L428.6 351L428 350.6L428.4 348L428.8 344.9L428.3 343.7L429 342.1L429.6 341.8L432.7 341.3L433.6 341.6L432.5 338.3L431.1 336.8L430.7 335.3L430.9 333.9L430.6 331.5L430.5 328.4L429.9 327.2L430.1 325.8L430.4 325.6L430.5 324L431.2 323.3L431.2 321.3L431.7 320.3L431.9 318.2L432.4 317L433.2 315.7L434.1 315L434.8 314.1L433.9 313.7Z"/>
<path fill="#fef0d9" d="M391.3 335.7L391.1 336.2L392.3 337.9L393.4 342.1L392.7 343.2L392.6 343.7L393.1 345.3L393.7 346.9L394.4 347.8L394.5 349.3L394.2 351.2L393.5 352.4L392.1 354.1L391.6 355.2L390.8 357.5L389.9 361L389.5 363.3L389.7 365L390.8 364.5L392.2 364L393.6 364.1L395 365.3L395.3 365.1L404.5 365L406.1 366.2L411.6 366.6L415.8 365.5L414.4 363.9L412.9 361.8L413.2 353.5L418 353.5L417.8 352.6L418.1 351.6L417.8 350.4L418.1 349.1L417.8 348.3L416.8 348.2L415.4 348.6L414.4 348.5L413.8 348.7L414 345.6L413.2 344.6L413.1 343.1L413.4 341.5L413 340.5L413 338.8L410.2 338.9L410.4 337.9L409.2 337.9L409.1 338.4L407.7 338.5L407.1 340L406.7 340.7L405.4 340.3L404.7 340.7L403.2 340.9L402.3 339.5L401.8 338.6L401.1 337.1L400.6 335.1L393.8 335.1L393 335.4L392.3 335.4ZM391 334.9L390.4 333L391.4 331.8L392.1 331.4L392.9 332.3L392.1 332.8L391.7 333.5L391.6 334.6Z"/>
<path fill="#fef0d9" d="M389.7 365L389.8 367L391.6 369.5L393.2 374.3L394.3 376.4L395.2 377.5L395.4 382.1L396 386.1L396.9 390.5L397.7 392.4L399.3 394.4L400.4 393.1L401.3 393.8L401.6 394.9L402.6 395.1L404 395.6L405.2 395.4L407.2 394.1L407.7 384.5L408.1 377.2L410.1 376.7L410.5 367.4L412.2 367.4L415.7 366.4L416.6 367.5L418 366.5L418.7 366.5L420 365.9L420 365.7L419.1 365.1L417.7 365L415.8 365.5L411.6 366.6L406.1 366.2L404.5 365L395.3 365.1L395 365.3L393.6 364.1L392.2 364L390.8 364.5Z"/>
<path fill="#fef0d9" d="M407.7 384.5L408.3 384.8L409.5 387.3L409.2 388.9L409.7 389.8L411.3 389.6L412.4 388.4L413.5 387.6L414.1 386.4L415.3 385.8L416.2 386.1L417.2 386.8L419.1 386.9L420.5 386.3L420.8 385.5L421.2 384.3L422.5 384.1L423.2 383.1L424 381.3L426.1 379.4L429.4 377.5L426.3 375.9L425.7 374.2L425.7 373.3L424.8 373L422.3 370.2L421.7 368.6L421.2 368.2L420.4 366.1L420 365.9L418.7 366.5L418 366.5L416.6 367.5L415.7 366.4L412.2 367.4L410.5 367.4L410.1 376.7L408.1 377.2Z"/>
<path fill="#fef0d9" d="M420.4 366.1L423 366.4L423.7 366.7L424.4 366.6L425.8 364.9L427.8 362.8L428.7 362.6L429 361.7L430.3 360.6L432 360.3L432.2 361.2L434.1 361.2L435.1 361.7L435.6 362.4L436.6 362.6L437.8 363.4L437.6 366.7L437.1 368.5L436.9 370.5L437.2 371.3L436.9 372.8L436.6 373L435.9 374.9L433.4 377.9L432.2 377.6L430.3 377.5L429.4 377.5L426.3 375.9L425.7 374.2L425.7 373.3L424.8 373L422.3 370.2L421.7 368.6L421.2 368.2Z"/>
<path fill="#fef0d9" d="M415.8 365.5L417.7 365L419.1 365.1L420 365.7L420.4 366.1L423 366.4L423.7 366.7L424.4 366.6L425.8 364.9L427.8 362.8L428.7 362.6L429 361.7L430.3 360.6L432 360.3L431.9 358.4L438.9 356.3L437.7 355.6L439.3 352.3L438.9 350.1L439.4 348L439.8 347.3L439.3 345.1L438.2 343.9L436.9 343.1L435.5 342.7L434.6 342.2L433.6 341.6L432.7 341.3L429.6 341.8L429 342.1L428.3 343.7L428.8 344.9L428.4 348L428 350.6L428.6 351L430.2 352.1L430.8 351.6L430.9 354.4L429.2 354.4L428.3 352.9L427.5 351.8L425.7 351.5L425.2 350.1L423.8 350.9L422 350.5L421.3 349.4L419.8 349.1L418.7 349.2L418.6 348.4L417.8 348.3L418.1 349.1L417.8 350.4L418.1 351.6L417.8 352.6L418 353.5L413.2 353.5L412.9 361.8L414.4 363.9Z"/>
<path fill="#fef0d9" d="M438.2 343.9L440.5 344.4L440.9 345.1L441.7 346.3L442.2 349.9L441.5 351.9L442 355.2L442.8 355.2L443.6 356.1L444.5 357.9L444.5 361.3L443.5 361.9L442.7 363.7L441.3 362L441.3 360.2L441.8 359L441.7 357.9L440.8 357.3L440.2 357.5L438.9 356.3L437.7 355.6L439.3 352.3L438.9 350.1L439.4 348L439.8 347.3L439.3 345.1Z"/>
<path fill="#fef0d9" d="M442.2 349.9L443.9 349.7L446.7 350.4L447.3 350.1L448.9 350L449.7 349.2L451.1 349.3L453.6 348.3L455.5 346.7L455.8 347.9L455.7 350.5L455.8 352.8L455.8 356.9L456.1 358.1L455.3 360L454.4 361.8L452.8 363.4L450.7 364.4L448.1 365.7L445.3 368.5L444.5 369L442.8 370.8L441.8 371.4L441.5 373.3L442.5 375.3L442.8 376.8L442.8 377.6L443.2 377.5L443 380L442.6 381.2L443.1 381.7L442.7 382.8L441.7 383.7L439.8 384.6L437 386L435.9 387L436.1 388.1L436.6 388.2L436.3 389.6L434.6 389.6L434.5 388.4L434.3 387.2L434.1 386.3L434.7 383.4L434.2 381.6L433.4 377.9L435.9 374.9L436.6 373L436.9 372.8L437.2 371.3L436.9 370.5L437.1 368.5L437.6 366.7L437.8 363.4L436.6 362.6L435.6 362.4L435.1 361.7L434.1 361.2L432.2 361.2L432 360.3L431.9 358.4L438.9 356.3L440.2 357.5L440.8 357.3L441.7 357.9L441.8 359L441.3 360.2L441.3 362L442.7 363.7L443.5 361.9L444.5 361.3L444.5 357.9L443.6 356.1L442.8 355.2L442 355.2L441.5 351.9Z"/>
<path fill="#fdbb84" d="M399.3 394.4L400.4 393.1L401.3 393.8L401.6 394.9L402.6 395.1L404 395.6L405.2 395.4L407.2 394.1L407.7 384.5L408.3 384.8L409.5 387.3L409.2 388.9L409.7 389.8L411.3 389.6L412.4 388.4L413.5 387.6L414.1 386.4L415.3 385.8L416.2 386.1L417.2 386.8L419.1 386.9L420.5 386.3L420.8 385.5L421.2 384.3L422.5 384.1L423.2 383.1L424 381.3L426.1 379.4L429.4 377.5L430.3 377.5L431.4 377.9L432.2 377.6L433.4 377.9L434.2 381.6L434.7 383.4L434.1 386.3L434.3 387.2L433.2 386.8L432.5 387L432.3 387.7L431.6 388.7L431.6 389.6L432.8 391L434.1 390.7L434.6 389.6L436.3 389.6L435.6 391.5L435.2 393.7L434.5 394.8L432.9 396.2L432.5 396.5L431.4 397.9L430.7 399.2L429.3 401.1L426.6 403.8L424.9 405.3L423.1 406.5L420.7 407.5L419.6 407.7L419.3 408.4L418 408L416.9 408.5L414.5 408L413.2 408.3L412.3 408.2L410 409.2L408.1 409.6L406.7 410.6L405.7 410.7L404.8 409.7L404.1 409.7L403.2 408.5L403.1 408.9L402.8 408.2L402.9 406.7L402.3 404.9L403.1 404.5L403.1 402.4L401.8 400L400.8 397.8Z"/>
<path fill="#fef0d9" d="M427.3 395.4L428.1 396.2L427.3 397.4L426.8 398.3L425.6 398.7L425.1 399.5L424.3 399.8L422.8 397.8L424.1 396.1L425.3 395.1L426.4 394.6Z"/>
<path fill="#fef0d9" d="M434.6 389.6L434.1 390.7L432.8 391L431.6 389.6L431.6 388.7L432.3 387.7L432.5 387L433.2 386.8L434.3 387.2L434.5 388.4Z"/>
<path fill="#fef0d9" d="M476.4 352.3L477 353.5L477.5 355.2L477.7 358.3L478.2 359.6L477.9 360.8L477.4 361.6L476.7 360L476.3 360.8L476.6 362.7L476.3 363.9L475.6 364.5L475.3 366.7L474.2 369.7L472.8 373.3L471.1 378.2L469.9 381.9L468.7 384.9L466.8 385.5L464.7 386.6L463.5 386L461.8 385L461.3 383.6L461.3 381.3L460.7 379.3L460.6 377.4L461.1 375.5L462.2 375L462.3 374.2L463.5 372.2L463.8 370.5L463.3 369.3L463 367.6L463 365.2L463.9 363.8L464.3 362.1L465.4 362L466.7 361.5L467.6 361L468.6 361L470 359.5L472 357.9L472.7 356.6L472.4 355.5L473.4 355.8L474.8 354L474.9 352.4L475.7 351.2Z"/>
<path fill="#fef0d9" d="M324.8 284.3L323.9 282.3L322.7 281.4L323.8 280.9L324.9 279L325.5 277.7L326.3 276.8L327.4 277.1L328.5 276.5L329.8 276.5L330.9 277.3L332.4 277.9L333.7 279.9L335.2 281.6L335.3 283.3L335.7 284.8L336.6 285.5L336.7 286.5L336.6 287.3L336.3 287.5L335.1 287.3L334.9 287.6L334.4 287.6L332.7 287L331.6 286.9L327.4 286.8L326.8 287.1L326 287L324.8 287.5L324.5 285.5L326.6 285.5L327.1 285.2L327.5 285.1L328.4 284.5L329.4 285.1L330.3 285.1L331.4 284.5L330.9 283.8L330.1 284.2L329.4 284.2L328.5 283.6L327.8 283.6L327.3 284.2Z"/>
<path fill="#fef0d9" d="M324.5 285.5L324.8 284.3L327.3 284.2L327.8 283.6L328.5 283.6L329.4 284.2L330.1 284.2L330.9 283.8L331.4 284.5L330.3 285.1L329.4 285.1L328.4 284.5L327.5 285.1L327.1 285.2L326.6 285.5Z"/>
<path fill="#fef0d9" d="M328.3 291L327.1 289.9L326.1 289.7L325.6 289L325.6 288.6L325 288L324.8 287.5L326 287L326.8 287.1L327.4 286.8L331.6 286.9L331.6 287.8L331.3 288.1L331.5 289L331.2 289.3L330.6 289.3L330 289.8L329.3 289.7Z"/>
<path fill="#fef0d9" d="M331.6 286.9L332.7 287L334.4 287.6L334.9 287.6L335.1 287.3L336.3 287.5L336.6 287.3L336.8 288.3L337.1 288.3L337.7 287.9L338.1 288L338.7 288.7L339.7 288.9L340.3 288.3L341.1 288L341.6 287.6L342.1 287.7L342.6 288.2L342.9 289L343.8 290.1L343.3 290.7L343.2 291.6L343.7 291.3L344 291.6L343.9 292.4L344.6 293.1L344.1 293.4L343.9 294.2L344.4 295.3L345 297.4L344.2 297.7L343.9 298.1L344.1 298.6L344 299.7L343.6 299.7L343 299.7L342.5 300.7L341.8 300.7L341.4 300.1L341.5 299.1L340.6 297.5L340 297.8L339.5 297.8L338.8 298L338.9 297L338.5 296.4L338.6 295.6L338.1 294.5L337.5 293.6L335.6 293.6L335.1 294.1L334.5 294.1L334.1 294.7L333.8 295.4L332.6 296.6L331.6 295L330.7 294L330.1 293.6L329.5 293.1L329.3 292L329 291.4L328.3 291L329.3 289.7L330 289.8L330.6 289.3L331.2 289.3L331.5 289L331.3 288.1L331.6 287.8Z"/>
<path fill="#fef0d9" d="M332.6 296.6L333.8 295.4L334.1 294.7L334.5 294.1L335.1 294.1L335.6 293.6L337.5 293.6L338.1 294.5L338.6 295.6L338.5 296.4L338.9 297L338.8 298L339.5 297.8L338.4 299.1L337.4 300.5L337.2 301.2L336.7 302.1L336.1 301.9L334.4 300.8L333.2 299.4L332.8 298.5Z"/>
<path fill="#fef0d9" d="M345.2 308.4L344.6 308.4L342.3 307.2L340.2 305.2L338.2 303.8L336.7 302.1L337.2 301.2L337.4 300.5L338.4 299.1L339.5 297.8L340 297.8L340.6 297.5L341.5 299.1L341.4 300.1L341.8 300.7L342.5 300.7L343 299.7L343.6 299.7L343.5 300.5L343.7 301.8L343.2 302.9L343.9 303.6L344.6 303.8L345.6 304.9L345.6 305.9L345.4 306.3Z"/>
<path fill="#fef0d9" d="M356.4 306.8L355.4 306.8L353.8 306.3L352.3 306.3L349.6 306.8L348 307.5L345.7 308.5L345.2 308.4L345.4 306.3L345.6 305.9L345.6 304.9L344.6 303.8L343.9 303.6L343.2 302.9L343.7 301.8L343.5 300.5L343.6 299.7L344 299.7L344.1 298.6L343.9 298.1L344.2 297.7L345 297.4L344.4 295.3L343.9 294.2L344.1 293.4L344.6 293.1L344.9 292.9L345.5 293.3L347.3 293.3L347.7 292.6L348.1 292.6L348.8 292.3L349.1 293.4L349.6 293.1L350.6 292.7L351.6 293.3L352 294.2L353.1 294.7L353.9 294.1L354.9 294L356.5 294.6L357.1 298.3L356.1 300.5L355.5 303.5L356.5 305.7Z"/>
<path fill="#fdd49e" d="M365.4 304.3L361.8 305.9L360.6 306.7L358.5 307.5L356.4 306.8L356.5 305.7L355.5 303.5L356.1 300.5L357.1 298.3L356.5 294.6L356.2 292.7L356.3 291.2L360.2 291.1L361.3 291.2L362 290.8L363 291L362.9 291.8L363.8 293.2L363.8 295.1L364.1 297.1L364.6 298.1L364.1 300.5L364.3 301.8L364.9 303.4Z"/>
<path fill="#fef0d9" d="M367.3 303.8L365.4 304.3L364.9 303.4L364.3 301.8L364.1 300.5L364.6 298.1L364.1 297.1L363.8 295.1L363.8 293.2L362.9 291.8L363 291L365.1 291.1L364.8 292.5L365.5 293.2L366.3 294.1L366.4 295.4L366.8 296L366.7 302Z"/>
<path fill="#fef0d9" d="M369.2 303.5L367.3 303.8L366.7 302L366.8 296L366.4 295.4L366.3 294.1L365.5 293.2L364.8 292.5L365.1 291.1L365.8 290.8L366.3 289.7L367.4 289.4L367.9 288.6L368.7 287.9L369.5 287.9L371.3 289.4L371.2 290.2L371.7 291.8L371.3 292.8L371.5 293.5L370.4 295.2L369.7 295.9L369.2 297.6L369.3 299.3Z"/>
<path fill="#fef0d9" d="M350.6 292.7L350.5 291.2L351.1 290.1L351 289.2L352.9 287.1L353.2 285.3L353.8 284.6L354.9 285L355.9 284.5L356.2 283.8L358 282.6L358.4 281.8L360.6 280.7L361.8 280.3L362.4 280.9L363.8 280.8L363.7 282.1L364 283.3L365.3 285L365.3 286.3L368 286.8L367.9 288.6L367.4 289.4L366.3 289.7L365.8 290.8L365.1 291.1L363 291L362 290.8L361.3 291.2L360.2 291.1L356.3 291.2L356.2 292.7L356.5 294.6L354.9 294L353.9 294.1L353.1 294.7L352 294.2L351.6 293.3Z"/>
<path fill="#fdbb84" d="M369.2 303.5L369.3 299.3L369.2 297.6L369.7 295.9L370.4 295.2L371.5 293.5L371.3 292.8L371.7 291.8L371.2 290.2L371.3 289.4L371.4 287L372.1 286L372.4 284.5L373 283.9L375.4 283.6L377.7 284.6L378.6 285.6L379.8 285.6L380.8 285L383.6 286.3L384.8 286.3L386.1 285.1L387.5 285.2L388.1 284.8L389.4 285L391.1 285.8L392.9 284.3L393.5 284.4L395 287.3L395.5 287.2L396.4 288.2L396.1 288.7L396 289.6L394.1 291.6L393.5 293.3L393.2 294.6L392.8 295.2L392.3 297L391.1 298.1L390.7 299.4L390.2 300.5L390 301.6L388.4 302.5L387.1 301.4L386.3 301.4L384.9 303L384.2 303L383.2 305.5L382.6 307.3L380.2 308.3L379.3 308.2L378.4 308.7L376.6 308.7L375.3 307L374.6 305.2L373 303.4L371.2 303.5Z"/>
<path fill="#fdd49e" d="M396.2 286.2L397.1 287.9L397.3 289.6L397.2 291.4L398.5 293.8L397.2 293.7L396.6 293.9L395.5 293.6L395 294.9L396.4 296.4L397.4 296.8L397.7 297.9L398.5 299.7L398.1 300.4L397 303.1L396.5 303.5L396.3 305.6L396.5 306.7L396.3 307.5L397.4 308.8L397.6 309.8L398.5 311.1L399.5 311.9L399.7 313.1L399.9 313.9L399.7 315.3L397.9 314.7L396 314L393.1 313.9L392.8 313.7L391.5 314.1L390.1 313.7L389 313.9L385.2 313.8L385.6 311.8L384.7 310.1L383.6 309.6L383.1 308.4L382.6 308.1L382.6 307.3L383.2 305.5L384.2 303L384.9 303L386.3 301.4L387.1 301.4L388.4 302.5L390 301.6L390.2 300.5L390.7 299.4L391.1 298.1L392.3 297L392.8 295.2L393.2 294.6L393.5 293.3L394.1 291.6L396 289.6L396.1 288.7L396.4 288.2L395.5 287.2L395.5 286.4Z"/>
<path fill="#fef0d9" d="M398.1 300.4L400 300.2L400.4 299.6L400.8 299.6L401.4 300.2L404.3 299.2L405.3 298.2L406.4 297.3L406.2 296.4L406.8 296.1L409.1 296.3L411.2 295.1L412.8 292.2L414 291.2L415.4 290.7L415.7 291.8L417 293.5L417.1 294.5L416.7 295.6L416.9 296.4L417.7 297.2L419.5 298.3L420.7 299.4L420.8 300.2L422.3 301.6L423.3 302.7L423.9 304.3L425.6 305.3L426 306.1L425.2 306.4L423.8 306.4L422 306.1L421.2 306.3L420.9 306.9L420.1 307L419.2 306.5L416.7 307.8L415.6 307.5L415.3 307.7L414.6 309.3L412.9 308.8L411.2 308.5L409.7 307.6L407.8 306.7L406.6 307.5L405.7 308.8L405.5 310.7L404 310.5L402.5 310.1L401.1 311.4L399.9 313.9L399.7 313.1L399.5 311.9L398.5 311.1L397.6 309.8L397.4 308.8L396.3 307.5L396.5 306.7L396.3 305.6L396.5 303.5L397 303.1Z"/>
<path fill="#fef0d9" d="M392.9 332.3L392.1 331.4L391.4 331.8L390.4 333L388.5 330.2L390.3 328.8L389.5 327L390.2 326.4L391.8 326L392 324.9L393.2 326.1L395.2 326.2L396 325L396.3 323.3L396 321.2L394.9 319.7L395.9 316.7L395.3 316.1L393.6 316.4L393 315L393.1 313.9L396 314L397.9 314.7L399.7 315.3L399.9 313.9L401.1 311.4L402.5 310.1L404 310.5L405.5 310.7L405.4 312.2L404.7 313.6L404.3 315.3L404 317.6L404.1 319L403.7 320L403.7 320.9L403.4 321.7L401.9 323L400.8 324.3L399.8 326.9L399.9 329L399.3 329.9L397.9 331.1L396.6 332.8L395.7 332.3L395.6 331.6L394.3 331.5L393.5 332.5Z"/>
<path fill="#fef0d9" d="M388.5 330.2L386.2 327.6L384.7 325.4L383.3 322.7L383.4 321.8L383.9 321L384.4 319.1L384.9 317.2L385.7 317L389 317L389 313.9L390.1 313.7L391.5 314.1L392.8 313.7L393.1 313.9L393 315L393.6 316.4L395.3 316.1L395.9 316.7L394.9 319.7L396 321.2L396.3 323.3L396 325L395.2 326.2L393.2 326.1L392 324.9L391.8 326L390.2 326.4L389.5 327L390.3 328.8Z"/>
<path fill="#fef0d9" d="M384.9 317.2L384.5 316.8L385.2 313.8L389 313.9L389 317L385.7 317Z"/>
<path fill="#fef0d9" d="M462 349.6L462.7 349.6L462.6 350.9L462 350.9Z"/>
<path fill="#fef0d9" d="M307.3 280.6L308.2 279.9L309.6 280.4L308.9 280.9ZM305.4 275.2L306.3 275.2L306.1 275.9ZM310.6 277.5L311.3 277.5L311 278.2Z"/>
<path fill="#fdbb84" d="M440.9 212L444.1 213L446.5 212.6L448.3 212.8L450.6 211.4L452.8 211.3L455.1 212.6L455.6 213.5L455.6 214.8L457.3 215.4L458.3 216.2L457 216.9L458.2 219.9L457.9 220.7L459.4 222.8L458.4 223.2L457.6 222.6L455 222.2L454.2 222.6L451.8 223L450.6 223L448.3 224L446.5 224L445.3 223.5L443 224.2L442.2 223.7L442.3 225.2L441.8 225.7L441.3 226.3L440.4 225.1L441 224.1L439.8 224.4L437.9 223.8L436.6 225.3L433.3 225.6L431.4 224.2L429.1 224.1L428.7 225.2L427.2 225.5L425 224.1L422.7 224.1L421.1 221.5L419.4 220.1L420.2 218.1L418.8 216.8L420.8 214.3L424.1 214.2L424.7 212.3L428.8 212.6L431.1 210.9L433.4 210.2L436.9 210.2ZM420.6 213.6L419 215L418.2 213.8L418.1 213.3L418.6 213L419.1 211.4L418 210.7L420 209.9L421.9 210.2L422.2 211.2L424.2 212.1L423.9 212.7L421.4 212.8Z"/>
<path fill="#fdd49e" d="M447.8 232.7L443.9 235.5L441.3 234.4L441.3 234.4L441.5 234L441.4 232.9L441.8 231.5L442.8 230.5L442.4 229.5L441.4 229.4L440.9 227.4L441.3 226.3L441.8 225.7L442.3 225.2L442.2 223.7L443 224.2L445.3 223.5L446.5 224L448.3 224L450.6 223L451.8 223L454.2 222.6L453.3 224.2L452.2 224.9L452.7 226.8L452.3 230Z"/>
<path fill="#fef0d9" d="M441.4 232.9L440.8 233L440.6 233.4L439.9 233.4L440.4 231.3L441.3 229.5L441.4 229.4L442.4 229.5L442.8 230.5L441.8 231.5Z"/>
<path fill="#fef0d9" d="M441.3 234.4L441 235.3L441.2 236.8L441 237.6L441.1 238.6L440.4 242.8L438.5 238.3L439.1 237.4L438.9 237.3L439.4 236.1L439.6 234.1L439.9 233.5L439.9 233.4L440.6 233.4L440.8 233L441.4 232.9L441.5 234L441.3 234.4Z"/>
<path fill="#fef0d9" d="M441 235.3L441.3 234.4L443.9 235.5L447.8 232.7L449.1 235.9L448.7 236.2L444.5 237.6L447 240.2L446.3 240.6L446 241.5L444.3 241.8L443.9 242.8L443 243.6L440.5 243.2L440.4 242.8L441.1 238.6L441 237.6L441.2 236.8Z"/>
<path fill="#fdbb84" d="M461.3 225.9L462.9 226.7L463.3 228.2L462.3 229.1L462.1 231.1L464 233.6L466.9 235L468.3 237L468.2 238.9L468.9 238.9L469.1 240.3L470.5 241.7L469.2 241.5L467.7 241.3L466.4 243.8L462.2 243.6L455.4 238.4L451.9 236.6L449.1 235.9L447.8 232.7L452.3 230L452.7 226.8L452.2 224.9L453.3 224.2L454.2 222.6L455 222.2L457.6 222.6L458.4 223.2L459.4 222.8Z"/>
<path fill="#fef0d9" d="M469.2 241.5L469.8 242.7L469.7 243.3L470.6 245.3L469.1 245.3L468.4 244.1L466.4 243.8L467.7 241.3Z"/>
<path fill="#fdd49e" d="M440.5 243.2L443 243.6L443.9 242.8L444.3 241.8L446 241.5L446.3 240.6L447 240.2L444.5 237.6L448.7 236.2L449.1 235.9L451.9 236.6L455.4 238.4L462.2 243.6L466.4 243.8L468.4 244.1L469.1 245.3L470.6 245.3L471.8 247.5L472.9 248.1L473.4 249L475 250.1L475.3 251.2L475.2 252.1L475.5 253L476.3 253.7L476.6 254.5L477 255.2L477.8 255.7L478.4 255.5L478.9 256.5L479 257.1L480.1 259.8L487 261.1L487.4 260.5L488.6 262.4L487.5 267.6L481 270.2L474.5 271.2L472.4 272.4L471 275.1L470 275.6L469.3 274.7L468.5 274.8L466.3 274.6L465.8 274.3L463.2 274.4L462.6 274.6L461.6 273.9L461.1 275.2L461.4 276.3L460.5 277.1L460.1 276L459.4 275.2L459.1 274.2L457.9 273.3L456.6 271.1L455.8 268.9L454.1 267.2L453.1 266.7L451.4 264.2L451.1 262.4L451.1 260.9L449.6 258L448.5 256.9L447.2 256.4L446.4 254.9L446.5 254.3L445.7 253L445 252.4L444 250.4L442.5 248.3L441.2 246.6L440.1 246.6L440.3 245.1L440.3 244.2Z"/>
<path fill="#fef0d9" d="M481 270.2L483.1 274.5L483.9 276.3L482.3 277L482 278.2L482 279.1L479.8 280.2L476.2 281.4L474.3 283.3L473.3 283.4L472.6 283.2L471.3 284.3L469.8 284.8L467.9 285L467.4 285.1L466.9 285.8L466.3 286L466 286.7L464.8 286.6L464.1 286.9L462.5 286.8L461.9 285.3L461.9 283.9L461.5 283.1L460.9 281.2L460.2 280.1L460.7 280L460.4 278.8L460.6 278.3L460.5 277.1L461.4 276.3L461.1 275.2L461.6 273.9L462.6 274.6L463.2 274.4L465.8 274.3L466.3 274.6L468.5 274.8L469.3 274.7L470 275.6L471 275.1L472.4 272.4L474.5 271.2Z"/>
<path fill="#fef0d9" d="M487.4 260.5L487.4 259.5L488 258.4L487.9 257.3L488.8 256.8L488.4 256.5L488.4 254.8L489.5 254.8L490.7 256.5L492.1 257.5L493.8 257.8L495.1 258.3L496.3 259.8L497 260.7L497.8 261L497.9 261.6L497.2 263.1L496.9 263.9L496 264.7L495.4 266.5L494.3 266.3L493.9 267L493.7 268.3L494.1 270L493.9 270.4L492.8 270.3L491.5 271.3L491.4 272.6L490.9 273.1L489.5 273.1L488.7 273.8L488.7 274.8L487.7 275.6L486.4 275.3L485 276.2L483.9 276.3L483.1 274.5L481 270.2L487.5 267.6L488.6 262.4ZM489 252.7L488.5 251.8L489 250.9L489.3 251.1L489.2 252.2Z"/>
<path fill="#fef0d9" d="M478.9 256.5L479.3 256.4L479.4 257.1L481.2 256.7L483 256.8L484.4 256.8L485.7 255.1L487.2 253.4L488.5 251.8L489 252.7L489.5 254.8L488.4 254.8L488.4 256.5L488.8 256.8L487.9 257.3L488 258.4L487.4 259.5L487.4 260.5L487 261.1L480.1 259.8L479 257.1Z"/>
<path fill="#fef0d9" d="M477 255.2L476.7 253.3L477.2 251.9L477.8 251.6L478.5 252.5L478.7 254L478.4 255.5L477.8 255.7Z"/>
<path fill="#fdbb84" d="M479.1 222.7L480.9 222.2L482.1 220.7L483.6 220.8L484.4 220.3L486 220.6L488.6 221.9L490.4 222.2L493.4 224.5L495 224.6L495.7 226.7L495.5 230L495.2 231.9L496.3 232.3L495.6 233.7L496.7 235.8L497.2 237.4L498.9 237.9L499.4 239.6L497.8 241.9L499.1 243.3L500.3 244.9L502.6 246L503 248.3L504.1 248.8L504.4 250L501.4 251.3L500.9 254.3L496.6 253.6L494.1 253L491.5 252.6L490.2 249.4L489.1 249L487.4 249.4L485.3 250.7L482.5 249.8L480 247.8L477.7 247.1L476 244.6L473.9 241.1L472.7 241.5L471.2 240.7L470.5 241.7L469.1 240.3L468.9 238.9L468.2 238.9L468.3 237L466.9 235L464 233.6L462.1 231.1L462.3 229.1L463.3 228.2L462.9 226.7L461.3 225.9L459.4 222.8L457.9 220.7L458.2 219.9L457 216.9L458.3 216.2L458.8 217.1L460.1 218.4L461.6 218.7L462.4 218.6L464.6 216.7L465.3 216.5L466.1 217.3L465.6 218.6L467.2 219.9L467.7 219.8L468.8 221.7L470.9 222.3L472.6 223.6L475.8 224L479 223.3Z"/>
<path fill="#fef0d9" d="M450.6 211.4L450.7 210.4L449.8 208.6L448.5 207.6L447.2 207.3L446.3 206.6L446.5 206.3L448.4 206.7L451.5 207.1L454.6 208.3L455.1 208.8L456.3 208.4L458.3 209L459.2 210L460.6 210.6L460.2 211L461.5 212.4L461.3 212.7L460.1 212.5L458.4 211.8L457.9 212.2L455.1 212.6L452.8 211.3Z"/>
<path fill="#fef0d9" d="M455.1 212.6L457.9 212.2L458.5 212.9L459.4 213.3L459.1 214L460.4 214.9L460 215.7L461 216.4L462 216.8L462.4 218.6L461.6 218.7L460.5 217.2L460.4 216.8L459.5 216.8L458.7 216.1L458.3 216.2L457.3 215.4L455.6 214.8L455.6 213.5Z"/>
<path fill="#fef0d9" d="M460.6 210.6L461.3 210.7L463 212.3L464 212.5L464.2 211.8L465.2 210.7L466.7 212.1L468.1 214L469.1 214.1L469.9 214.8L468.2 215L468.3 217L468.1 217.9L467.4 218.5L467.7 219.8L467.2 219.9L465.6 218.6L466.1 217.3L465.3 216.5L464.6 216.7L462.4 218.6L462 216.8L461 216.4L460 215.7L460.4 214.9L459.1 214L459.4 213.3L458.5 212.9L457.9 212.2L458.4 211.8L460.1 212.5L461.3 212.7L461.5 212.4L460.2 211ZM458.7 216.1L459.5 216.8L460.4 216.8L460.5 217.2L461.6 218.7L460.1 218.4L458.8 217.1L458.3 216.2Z"/>
<path fill="#fef0d9" d="M512 209.6L510.9 210.1L508.7 211.9L508.3 213.7L507.5 213.7L506.6 212.5L503.9 212.4L502.8 210.3L501.8 210.3L501.2 207.7L498.1 205.8L494.6 206L492.3 206.4L489.6 204L487.6 203.1L483.9 201.2L483.4 201L478.6 202.5L481.1 212L480.1 212.2L478.1 210.2L476.5 209.4L474.2 209.9L473.5 210.8L473.3 210.2L473.5 209.1L472.9 208.2L470.2 207.3L468.8 205L467.5 204.4L467.2 203.5L469.3 203.8L468.9 201.9L470.5 201.5L472.4 201.9L472.1 199.4L471.4 197.8L469.4 197.9L467.5 197.3L465.4 198.4L463.6 198.9L462.4 198.5L462.3 197.2L460.6 195.5L459.1 195.6L457 193.9L457.7 191.9L457 191.4L457.8 188.7L460.3 190.1L460 188.3L463.3 185.5L466.4 185.5L471.3 187.2L474 188.2L475.8 187.2L478.9 187.1L481.9 188.4L482.2 187.7L485 187.8L485.1 186.6L481.3 184.9L482.7 183.6L482.1 183L483.7 182.3L481.7 180.6L482.2 179.8L489.2 178.9L489.8 178.3L494.3 177.4L495.5 176.4L499.2 176.9L501 179.5L502.7 178.8L505.6 179.7L506.1 181L507.9 180.9L511.6 178.6L511.3 179.3L514.7 181.3L522.2 187.6L522.6 186.3L526 187.8L528.6 187.1L529.9 187.6L531.5 189L533.2 189.5L534.5 190.6L536.9 190.2L538.8 191.8L538 193.5L536.4 193.7L537.5 196.3L536.8 197.4L532.4 196.6L532.8 201.1L532 201.7L528.3 202.7L531.9 207.2L530.7 207.9L531.4 209.4L530 209L528.6 208L525.4 207.8L521.9 207.7L521.2 208L517.9 206.9L516.9 207.4L517.1 209L513.3 208.1L512.1 208.4Z"/>
<path fill="#fdd49e" d="M481.1 212L478.6 202.5L483.4 201L483.9 201.2L487.6 203.1L489.6 204L492.3 206.4L494.6 206L498.1 205.8L501.2 207.7L501.8 210.3L502.8 210.3L503.9 212.4L506.6 212.5L507.5 213.7L508.3 213.7L508.7 211.9L510.9 210.1L512 209.6L512.7 209.8L511.4 211.5L513.3 212.5L514.6 211.8L517.5 213.2L515.4 215L513.7 214.8L512.8 214.9L512.3 214.1L512.4 212.9L509.8 213.5L509.6 215.2L509 216.7L507.1 216.5L506.9 217.7L508.7 218.3L509.6 220.2L509.1 222.9L507.3 222.3L506.1 222.3L505.8 220.7L502.7 219.6L500.1 218.3L498.4 217.1L495.5 215.3L493.7 212.6L492.9 212.1L490.7 212.3L489.7 211.7L488.9 209.7L485.7 208.3L484.4 209.8L482.8 210.7L483.5 212Z"/>
<path fill="#fef0d9" d="M495.7 226.7L495 224.6L493.4 224.5L490.4 222.2L488.6 221.9L486 220.6L484.4 220.3L483.6 220.8L482.1 220.7L480.9 222.2L479.1 222.7L478.3 220.9L478.1 218.2L476.2 217.3L476.4 215.5L474.9 215.4L474.9 213.2L477.1 213.8L478.7 213L476.8 211.4L475.9 209.9L474.3 210.6L474.5 212.5L473.5 210.8L474.2 209.9L476.5 209.4L478.1 210.2L480.1 212.2L481.1 212L483.5 212L482.8 210.7L484.4 209.8L485.7 208.3L488.9 209.7L489.7 211.7L490.7 212.3L492.9 212.1L493.7 212.6L495.5 215.3L498.4 217.1L500.1 218.3L502.7 219.6L505.8 220.7L506.1 222.3L505.5 222.2L504.3 221.5L504.2 222.4L502.5 222.9L502.5 225L501.5 225.8L499.8 226.2L499.7 227.4L498.1 227.7Z"/>
<path fill="#fef0d9" d="M512 209.6L512.1 208.4L513.3 208.1L517.1 209L516.9 207.4L517.9 206.9L521.2 208L521.9 207.7L525.4 207.8L528.6 208L530 209L531.4 209.4L531.3 209.9L528.5 211.3L528.1 212.4L525.5 212.7L525.3 214.3L522.9 214L521.6 214.5L519.9 215.7L520.4 216.3L520 216.9L516.1 217.3L513.2 216.5L510.9 216.7L510.7 215.2L513.2 215.6L513.7 214.8L515.4 215L517.5 213.2L514.6 211.8L513.3 212.5L511.4 211.5L512.7 209.8Z"/>
<path fill="#fef0d9" d="M513.7 214.8L513.2 215.6L510.7 215.2L510.9 216.7L513.2 216.5L516.1 217.3L520 216.9L521.2 219.3L521.9 219L523.3 219.6L523.5 220.7L524.3 222.1L522.1 222.1L520.5 221.9L519.5 223.1L518.6 223.4L518 223.9L516.9 223L516.5 220.9L515.9 220.8L515.9 220L514.6 219.4L513.9 220.3L513.9 221.3L513.7 221.7L512.4 221.6L512 222.8L511.2 222.3L509.8 223.2L509.1 222.9L509.6 220.2L508.7 218.3L506.9 217.7L507.1 216.5L509 216.7L509.6 215.2L509.8 213.5L512.4 212.9L512.3 214.1L512.8 214.9Z"/>
<path fill="#fdd49e" d="M495.7 226.7L498.1 227.7L499.7 227.4L499.8 226.2L501.5 225.8L502.5 225L502.5 222.9L504.2 222.4L504.3 221.5L505.5 222.2L506.1 222.3L507.3 222.3L509.1 222.9L509.8 223.2L511.2 222.3L512 222.8L512.4 221.6L513.7 221.7L513.9 221.3L513.9 220.3L514.6 219.4L515.9 220L515.9 220.8L516.5 220.9L516.9 223L518 223.9L518.6 223.4L519.5 223.1L520.5 221.9L522.1 222.1L524.3 222.1L524.9 222.9L523.7 223.2L522.7 223.6L520.3 224L518.2 224.5L517.2 225.7L518 226.7L518.5 228.1L517.7 229.1L518.1 230.1L517.7 231.1L515.6 231L516.8 232.7L515.6 233.4L515 235L515.5 236.5L514.7 237.3L513.9 237L512.3 237.4L512.2 238.1L510.5 238.1L509.6 239.6L509.9 241.8L507.2 242.9L505.6 242.6L505.3 243.2L503.9 242.9L501.7 243.3L497.8 241.9L499.4 239.6L498.9 237.9L497.2 237.4L496.7 235.8L495.6 233.7L496.3 232.3L495.2 231.9L495.5 230Z"/>
<path fill="#fc8d59" d="M524.9 222.9L526.8 224.1L528 226.1L531.8 227.2L530.3 229.4L528 229.7L524.5 229.1L523.7 230.2L525 232.5L526.2 234.3L528.3 235.6L526.8 237.1L527.2 238.9L525.6 241.5L524.7 244.2L522.9 246.9L520.2 246.7L518.2 249.5L519.8 250.7L520.4 252.7L521.8 254L522.6 256.2L517.6 256.2L516.4 258L514.6 257.3L513.7 255.4L511.7 253.4L507.7 253.9L504.1 254L500.9 254.3L501.4 251.3L504.4 250L504.1 248.8L503 248.3L502.6 246L500.3 244.9L499.1 243.3L497.8 241.9L501.7 243.3L503.9 242.9L505.3 243.2L505.6 242.6L507.2 242.9L509.9 241.8L509.6 239.6L510.5 238.1L512.2 238.1L512.3 237.4L513.9 237L514.7 237.3L515.5 236.5L515 235L515.6 233.4L516.8 232.7L515.6 231L517.7 231.1L518.1 230.1L517.7 229.1L518.5 228.1L518 226.7L517.2 225.7L518.2 224.5L520.3 224L522.7 223.6L523.7 223.2Z"/>
<path fill="#e34a33" d="M531.8 227.2L535 230.2L535.3 232.3L536.5 233.7L536.8 235L535.1 234.7L536.4 237.5L538.9 239.2L542.4 241L541.3 242.2L540.9 244.7L543.3 245.6L545.6 246.9L548.8 248.4L551.9 248.7L553.4 250L555.2 250.3L558 250.9L559.9 250.9L559.9 249.8L559.3 248.2L559.3 247L560.5 246.5L561.1 248.5L561.3 249.1L563.5 250.1L564.8 249.6L566.7 249.8L568.5 249.7L568.4 248.2L567.3 247.3L569 247L570.6 245L572.8 243.4L574.8 244L576.1 242.9L577.5 244.5L577 245.6L579.5 246L579.9 247L579.2 247.5L579.8 249.1L578.1 248.6L575.6 250.4L576 251.9L575.1 254.1L575.3 255.4L574.6 257.5L572.8 256.9L573.1 259.7L572.7 260.5L573.1 261.6L572.1 262.3L570.3 258.1L569.7 258.1L569.6 259.8L568.1 258.5L568.6 257L569.6 256.8L570.2 254.6L568.9 254.2L566.8 254.2L564.6 253.8L564.1 252L563 251.9L561 250.8L560.5 252.5L562.4 253.9L561.2 254.9L560.8 255.9L562.3 256.6L562.2 258.1L563.2 260.1L563.9 262.2L563.7 263.2L562.2 263.2L559.5 263.7L559.8 265.7L558.8 267.2L555.8 269L553.6 272L552.1 273.7L550 275.4L550.2 276.6L549.1 277.2L547.2 278.2L546.1 278.3L545.6 280.3L546.4 283.7L546.7 285.8L545.9 288.3L546.2 292.8L545 292.9L544.1 294.9L544.8 295.7L542.8 296.5L542.1 298.3L541.2 299L538.9 296.6L537.7 292.9L536.6 290.3L535.7 289.1L534.3 286.5L533.5 283.3L533 281.6L530.6 278.1L529.2 273L528.1 269.7L527.8 266.5L527.1 264L524 265.6L522.3 265.3L519 262.1L520 261.2L519.3 260.2L516.4 258L517.6 256.2L522.6 256.2L521.8 254L520.4 252.7L519.8 250.7L518.2 249.5L520.2 246.7L522.9 246.9L524.7 244.2L525.6 241.5L527.2 238.9L526.8 237.1L528.3 235.6L526.2 234.3L525 232.5L523.7 230.2L524.5 229.1L528 229.7L530.3 229.4Z"/>
<path fill="#fdd49e" d="M559.3 247L559.3 248.2L559.9 249.8L559.9 250.9L558 250.9L555.2 250.3L553.4 250L551.9 248.7L548.8 248.4L545.6 246.9L543.3 245.6L540.9 244.7L541.3 242.2L542.4 241L543.2 240.4L545.2 241.2L547.8 242.9L549.1 243.3L550.1 244.5L551.9 245L554 246.2L556.6 246.8Z"/>
<path fill="#fef0d9" d="M567.3 247.3L568.4 248.2L568.5 249.7L566.7 249.8L564.8 249.6L563.5 250.1L561.3 249.1L561.1 248.5L562.2 246.6L563.3 245.9L565 246.6L566.2 246.6Z"/>
<path fill="#fdbb84" d="M572.1 262.3L572.3 264.2L571.5 263.7L571.9 265.8L571.1 264.5L570.8 263.2L570.2 261.9L569 260.4L566.9 260.3L567.3 261.4L566.8 262.8L565.7 262.3L565.5 262.7L564.8 262.5L563.9 262.2L563.2 260.1L562.2 258.1L562.3 256.6L560.8 255.9L561.2 254.9L562.4 253.9L560.5 252.5L561 250.8L563 251.9L564.1 252L564.6 253.8L566.8 254.2L568.9 254.2L570.2 254.6L569.6 256.8L568.6 257L568.1 258.5L569.6 259.8L569.7 258.1L570.3 258.1Z"/>
<path fill="#fdd49e" d="M551 300.2L550.8 302.9L549.9 303.6L547.9 304.2L546.7 302.2L546.2 298.4L547 294.2L548.6 295.6L549.8 297.5Z"/>
<path fill="#fc8d59" d="M414.8 143.2L416.3 142.4L419.4 143.8L424.2 144.3L431.4 146.8L433 147.9L433.7 149.4L432.2 150.5L429.5 151.2L421.3 149.4L420.1 149.7L423.4 151.4L423.8 152.4L424.6 154.8L427 155.5L428.6 156.1L428.5 155L427.2 154L428 153.1L432.7 154.5L434 154L432.3 152.3L435.6 150.1L437.2 150.2L439.1 151L439.5 149.4L437.6 148.1L438 146.8L436.2 145.4L441.2 146.1L442.7 147.3L440.6 147.6L441.1 148.9L442.7 149.6L445.2 149.2L445.1 147.7L448.2 146.7L453.2 144.7L454.5 144.9L453.5 146.2L455.7 146.4L456.5 145.7L459.7 145.6L461.7 144.7L464.3 146L465.5 144.6L463 143.3L463.5 142.6L468.8 143.2L471.5 143.9L479 146.4L479.5 145.3L477.1 144.1L476.8 143.6L474.6 143.4L474.5 142.4L472.6 140.7L472.1 140L473.9 138.1L473.6 136.2L474.5 135.7L479.2 136.3L480.3 137.5L480 139.2L481.5 139.9L483 141.4L484.6 144.4L487.3 145.7L487.5 147.2L486.1 150.4L488.3 150.8L488.5 150L490 149.4L489.8 148.3L490.6 147.2L488.8 145.9L488.6 144.5L486.7 144.3L485.5 143L485.3 140.9L482 139.1L483.9 137.7L482.4 136.2L483.2 136.1L484.9 137.3L485.7 139.3L487.7 139.8L485.9 138.2L488 137.4L491.2 137.3L495.1 138.5L492.3 136.7L490.3 134.5L492.7 134L496.6 134.1L499.8 133.9L497.5 132.8L498.1 131.5L499.8 131.4L501.8 130.4L505.5 130.1L505.4 129.6L509.3 129.4L511 129.8L513.2 128.8L516 128.8L515.4 128L515.8 127.1L518.3 126.3L521.7 127L520.3 127.4L524.1 127.7L525.7 128.7L526.5 128.2L531 128.3L535.7 129.2L537.9 130L538.9 131L538 131.6L535.2 132.8L534.8 133.4L537.1 133.7L540 134.2L541 133.8L543.3 135.1L543.4 134.6L545.5 134.3L551 134.6L552.6 135.6L559.6 135.9L557.7 134.3L561.6 134.6L564.1 134.6L568.1 135.7L570.5 137.1L570.7 138L574.8 139.7L578.4 140.5L577.2 138.3L581 139.2L583.1 138.7L587.1 139.3L587.5 138.7L590.5 139L586.7 137L587.6 136.1L604 137.5L607.2 138.8L613.9 140.4L619.9 140L623.6 140.4L626.4 141.3L628.5 142.9L631.4 143.5L633 143L635.9 143L639.7 143.4L642.5 143.2L648.3 145.1L649.3 144.4L645.8 143L645 142L651.3 142.6L654.5 142.5L661 143.6L664.9 144.5L678.3 153.5L677.6 154.5L675 154.3L678.3 155.6L682.1 157.5L683.8 158.1L685.3 159.1L685.7 159.7L681.7 159.2L679 161L677.7 161.2L677.1 162.9L676.3 164.4L677 165.5L672.3 163.8L669.8 165.7L667.9 164.8L667.3 165.8L664.5 165.5L665.7 167.1L666.2 169.4L667.4 170.4L670.1 170.9L673.8 174.5L672.2 174.6L673.5 176.6L675.5 177.7L673.4 178.9L675.6 181.8L673.3 182.4L675.1 184.9L674.5 187.3L672.1 185.5L667.8 181.9L661.3 176.4L658.6 173L658.7 171.5L657.6 170.4L659.8 169.8L659.8 166.8L660.1 164.4L661.1 162.5L658.4 159.1L656.5 159.3L657.8 161.3L656.3 163.9L651.3 161L647.6 161.8L647.6 165.7L650.8 167.2L647.3 167.9L644.7 168.1L643 166.4L639.7 166L638.6 167.2L632.5 166.7L627.2 167.5L625.8 172.2L623.7 178L627 178.3L629.3 179.8L631.7 180.4L631.9 179.2L634.1 179.3L639.4 182L641.3 184.2L641.8 186.7L644.1 189.7L646.2 193.7L645.8 197.4L646.3 199.2L645.5 202.2L644.7 205.1L644.3 206.6L642.5 208.2L641.2 208.2L639.1 207L637.4 208.8L637.6 209.7L637 209.2L636.2 207.9L637.3 207.9L635.7 204.8L633.8 202.6L635 201.7L637.8 202.2L637.5 199.7L636.4 196.9L636.5 195.9L636 193.6L633.2 194.4L632.1 195.4L629 195.4L626.6 193L622.9 191.2L618.9 190.4L616.4 187.9L614.5 186.4L613 185.3L609.8 182.8L607.4 181.9L603.9 181.1L601.4 181.2L599.3 181.6L598.6 182.9L600.1 183.5L601.1 184.9L600.6 185.7L600.7 188.3L601.5 189.4L599.7 191L596.7 190.1L594.4 190.3L592.8 189.4L591.4 189.2L589.6 191L587.2 191.4L585.8 192L583 191.6L581.1 191.6L579.2 190.3L576.5 189.1L574.3 188.8L571.9 189.1L570.3 189.6L566.9 188.5L565.4 186.6L562.7 186L560.7 185.7L557.9 184.6L557.3 187.3L559 188.7L558 190.5L554.7 189.8L552.7 189.8L550.7 188.6L548.6 188.5L546.5 187.8L544.1 189L541.4 191.1L539.4 191.6L538.8 191.8L536.9 190.2L534.5 190.6L533.2 189.5L531.5 189L529.9 187.6L528.6 187.1L526 187.8L522.6 186.3L522.2 187.6L514.7 181.3L511.3 179.3L511.6 178.6L507.9 180.9L506.1 181L505.6 179.7L502.7 178.8L501 179.5L499.2 176.9L495.5 176.4L494.3 177.4L489.8 178.3L489.2 178.9L482.2 179.8L481.7 180.6L483.7 182.3L482.1 183L482.7 183.6L481.3 184.9L485.1 186.6L485 187.8L482.2 187.7L481.9 188.4L478.9 187.1L475.8 187.2L474 188.2L471.3 187.2L466.4 185.5L463.3 185.5L460 188.3L460.3 190.1L457.8 188.7L457 191.4L457.7 191.9L457 193.9L459.1 195.6L460.6 195.5L462.3 197.2L462.4 198.5L463.6 198.9L463 200.5L461.1 200.9L459.7 203.5L462.1 206L462.3 207.7L465.2 210.7L464.2 211.8L464 212.5L463 212.3L461.3 210.7L460.6 210.6L459.2 210L458.3 209L456.3 208.4L455.1 208.8L454.6 208.3L451.5 207.1L448.4 206.7L446.5 206.3L446.3 206.6L443.3 204.4L440.7 203.4L438.7 201.9L440.1 201.5L441.4 199.4L440.1 198.3L442.9 197.3L442.7 196.7L441 197.2L440.8 196L441.7 195.3L443.6 195.1L443.8 194.3L443 192.9L443.6 191.5L443.4 190.8L440.3 190L439.1 190L437.6 188.8L436.2 189.2L433.5 188.3L433.3 187.3L432.5 186.7L430.9 186.6L430.5 185.8L430.9 185.3L429.4 183.9L427.4 184.2L426.8 184L426.4 184.6L425.6 184.5L424.8 182.9L424.2 182.1L424.5 181.8L426.1 181.9L426.8 181.4L426.1 180.7L424.7 180.3L424.7 179.9L423.8 179.4L422.3 177.8L422.6 177.1L422.2 176L420.2 175.4L419.2 175.7L418.8 175.1L416.7 174.4L415.8 173L415.4 171.8L414.4 171.3L415.1 170.5L414.1 168.2L415.1 166.8L414.8 166.4L416.6 165.1L414.4 164L417.7 160.9L419 159.6L419.4 158.4L416.4 156.8L416.8 155.3L414.8 153.6L415.5 151.6L412.8 149L414 147.3L411 145.8L410.9 144.3L412.2 144.1ZM648.9 187.9L654.5 192.4L650.8 191.5L652.4 195.2L656.2 197.8L657.5 199.6L654.8 198.1L654.9 200L653 197.9L651.4 195.4L649.2 192.7L648.2 190.8L645.6 187.4L642.3 184.9L639.5 181.5L640.3 180.4L638.5 179.2L639 178.9L641.1 180.5L643.9 182.9L645.9 185.4ZM446.2 137.9L447.6 137.4L446.9 136.3L449.1 134.5L447.5 134.3L450.2 132.4L449.2 131.5L452 130.5L456.2 129.2L460.9 128.8L462.9 128.1L465.7 127.8L467.4 128.6L466.9 129.2L462.2 130.2L458.2 131.2L454.7 133.1L453.5 135.1L452.2 137.1L453.4 138.9L457.5 140.7L456.6 140.9L451.1 140.6L450.2 139.6L447 139.1ZM508.8 124.1L505.9 124.3L501.2 123.8L497.9 123.1L495.3 121.8L492.9 121.5L495.1 120.3L497.6 119.9L501.5 120.8L507 122.4ZM517.8 125.1L510.4 125.9L509.9 123.4L510.8 123.2L512.1 123.3L517.2 124.4ZM574.8 129.4L579 129.5L586.3 130.6L587.5 132.1L581.7 132L579.9 132.5L574.8 131.2L573.4 129.8ZM588.5 130.7L591.9 131L596.7 131.5L596.2 132.3L593.4 132.1L589.2 131.4ZM587 134L590.5 134.8L591.5 135.4L589.1 135.4L585.5 135.1L585 135L585.4 134.2ZM655.7 139L655.2 139.9L658.2 140.4ZM70.3 139L73.3 139.5L72.7 139.8L70.1 140.3L67.8 140.4ZM61.1 144.5L62.6 146.2L63.8 148.4L61.6 149.8L62 150.4L63.9 148.8L68.1 149.1L68.5 151.2L65.4 152.2L62.2 152.4L59 154.7L57.7 155.2L56.1 155.1L55.9 154.3L54.5 153.6L55.5 152.6L54.3 152.3L51.9 152.5L52.1 151.8L53.7 150.9L50.8 151.5L50.1 152.5L47.7 153.5ZM426.6 121L429.2 120.7L431.3 120.7L431.9 121.2L432.5 120.8L433.6 120.5L436 120.9L435.6 121.1L433.8 121.3L432.6 121.5L432.6 121.7L431.2 122L429.3 121.6L429.8 121.1Z"/>
<path fill="#fef0d9" d="M539.4 191.6L541.4 191.1L544.1 189L546.5 187.8L548.6 188.5L550.7 188.6L552.7 189.8L554.7 189.8L558 190.5L559 188.7L557.3 187.3L557.9 184.6L560.7 185.7L562.7 186L565.4 186.6L566.9 188.5L570.3 189.6L571.9 189.1L574.3 188.8L576.5 189.1L579.2 190.3L581.1 191.6L583 191.6L585.8 192L587.2 191.4L589.6 191L591.4 189.2L592.8 189.4L594.4 190.3L596.7 190.1L596.9 192L597 194.5L598.1 195.6L599.1 195.2L601.4 195.6L602.3 194.7L604.5 195.5L607.4 197.3L607.7 198.2L605.9 197.9L603.2 198.3L602.1 199L601.6 200.7L599 201.7L597.7 203L595.3 202.5L594 202.3L593.8 203.9L595 204.9L595.8 205.8L594.8 206.6L594 208L592 208.9L588.9 209L586 209.9L584.1 211.3L582.8 210.5L580.3 210.5L576.5 208.9L574.2 208.6L571.6 208.9L567 208.3L564.7 208.4L562.8 206.8L560.8 204.5L559.4 204.2L556.2 202.6L553.2 202.2L550.6 201.8L549.4 200.7L548.8 197.7L546.5 195.7L543.1 194.7L540.8 193.3Z"/>
<path fill="#e34a33" d="M627.1 215.6L624.5 216.4L623.6 217.6L621.6 218.3L622.2 217.1L621.2 216.1L622 214.3L620.2 213L618.8 213.9L617.3 215.7L616.8 217.4L614.8 217.5L614.3 218.7L616.2 220.5L618.2 220.9L618.7 222.1L620.8 222.8L622.4 221L624.7 222L626.2 222.1L627.1 223.4L624.4 224.1L624 225.6L622.4 226.9L622.1 228.7L625 230.1L626.8 232.7L629.1 235.1L631.3 237.1L631.9 239L630.8 239.7L631.8 241.1L633.4 241.9L633.7 244.1L633.7 246.1L632.6 246.3L631.7 249.2L630.8 252.6L629.5 255.7L626.9 258.1L624.2 260.3L621.7 260.6L620.5 261.8L619.6 260.9L618.5 262.2L615.6 263.6L613.3 263.9L612.9 266.7L611.7 266.9L610.8 265L611.2 263.9L608 263.1L607 263.6L604.6 262.9L603.4 261.8L603.5 260.3L601.3 259.8L600.1 258.9L598.4 260.2L596.3 260.5L594.5 260.5L593.4 261.2L592.3 261.5L593.1 264.5L591.8 264.5L591.6 263.8L591.3 262.8L589.8 263.5L588.7 263.1L586.9 262.1L587.2 259.9L585.7 259.4L584.8 257L582.5 257.4L582.2 254.3L583.9 252.1L583.5 250L583 248L581.9 247.4L580.8 245.8L579.5 246L577 245.6L577.5 244.5L576.1 242.9L574.8 244L572.8 243.4L570.6 245L569 247L567.3 247.3L566.2 246.6L565 246.6L563.3 245.9L562.2 246.6L561.1 248.5L560.5 246.5L559.3 247L556.6 246.8L554 246.2L551.9 245L550.1 244.5L549.1 243.3L547.8 242.9L545.2 241.2L543.2 240.4L542.4 241L538.9 239.2L536.4 237.5L535.1 234.7L536.8 235L536.5 233.7L535.3 232.3L535 230.2L531.8 227.2L528 226.1L526.8 224.1L524.9 222.9L524.3 222.1L523.5 220.7L523.3 219.6L521.9 219L521.2 219.3L520 216.9L520.4 216.3L519.9 215.7L521.6 214.5L522.9 214L525.3 214.3L525.5 212.7L528.1 212.4L528.5 211.3L531.3 209.9L531.4 209.4L530.7 207.9L531.9 207.2L528.3 202.7L532 201.7L532.8 201.1L532.4 196.6L536.8 197.4L537.5 196.3L536.4 193.7L538 193.5L538.8 191.8L539.4 191.6L540.8 193.3L543.1 194.7L546.5 195.7L548.8 197.7L549.4 200.7L550.6 201.8L553.2 202.2L556.2 202.6L559.4 204.2L560.8 204.5L562.8 206.8L564.7 208.4L567 208.3L571.6 208.9L574.2 208.6L576.5 208.9L580.3 210.5L582.8 210.5L584.1 211.3L586 209.9L588.9 209L592 208.9L594 208L594.8 206.6L595.8 205.8L595 204.9L593.8 203.9L594 202.3L595.3 202.5L597.7 203L599 201.7L601.6 200.7L602.1 199L603.2 198.3L605.9 197.9L607.7 198.2L607.4 197.3L604.5 195.5L602.3 194.7L601.4 195.6L599.1 195.2L598.1 195.6L597 194.5L596.9 192L596.7 190.1L599.7 191L601.5 189.4L600.7 188.3L600.6 185.7L601.1 184.9L600.1 183.5L598.6 182.9L599.3 181.6L601.4 181.2L603.9 181.1L607.4 181.9L609.8 182.8L613 185.3L614.5 186.4L616.4 187.9L618.9 190.4L622.9 191.2L626.6 193L629 195.4L632.1 195.4L633.2 194.4L636 193.6L636.5 195.9L636.4 196.9L637.5 199.7L637.8 202.2L635 201.7L633.8 202.6L635.7 204.8L637.3 207.9L636.2 207.9L637 209.2L634.8 207.7L634.8 209.2L632.2 210.3L633.3 211.6L631.4 211.5L630 210.7L629.6 212.6L628 214ZM613.4 271L611.7 272.3L609.7 271.5L609.3 269.2L610.2 268.1L612.5 267.3L613.8 267.4L614.5 268.4L613.7 269.5Z"/>
<path fill="#fdd49e" d="M637 209.2L637.6 209.7L636.7 209.5L636.3 210.4L636.2 211.3L637.4 213.2L636.6 213.7L636.4 214.2L636 214.9L634.9 215.4L634.3 216.1L634.8 217.2L634.7 217.5L635.8 217.9L637.6 219L637.6 219.7L636.8 219.8L635.3 220L635 221.1L634 221L634 221.3L632.7 220.8L632.7 221.3L632.2 221.5L631.9 221L631.2 220.8L630.4 220.3L630.5 219.2L630.8 218.9L630.4 218.4L630.2 217L629.9 216.6L628.5 216.3L627.1 215.6L628 214L629.6 212.6L630 210.7L631.4 211.5L633.3 211.6L632.2 210.3L634.8 209.2L634.8 207.7Z"/>
<path fill="#fdbb84" d="M637.6 219L640.9 222.1L642.3 223.8L643.7 226.8L643.5 228.2L641.7 228.7L640.4 229.8L638.6 230L637.7 228.6L637.3 226.7L635.1 223.9L636.5 223.5L634 221.3L634 221L635 221.1L635.3 220L636.8 219.8L637.6 219.7Z"/>
<path fill="#fc8d59" d="M666.6 222.9L666.9 225L667.9 226.3L667.6 228.1L665.5 229.3L661.7 229.5L659.9 232.5L658 231.4L657.1 229.5L653.5 230.1L651.5 231.3L649 231.3L652 233.3L652.3 237.7L651.3 238.8L649.8 237.8L649.5 235.4L647.8 234.7L646.1 232.9L647.9 232.1L648.3 230.5L649.9 229.1L650.7 227.3L654.7 226.5L657.2 227.1L657.2 222.5L659.3 223.7L661.1 221.1L661.8 220.1L661.4 216.9L659.4 214L659.3 212.3L661.2 211.9L664.5 215.5L665.7 217.6L665.2 220.2ZM661.8 204.7L663.6 205.2L664.4 204.1L666.8 207L664.2 207.7L664 210.3L659.6 208.5L660.3 211.3L657.9 211.4L656 208.8L655.8 206.8L657.9 206.7L656.1 203.1L655.4 201.1L659.6 203.8ZM656.6 230.7L657.3 231.5L656.7 233.1L655.5 232.3L654.6 232.9L654.7 234.4L652.9 233.7L652.4 232.5L653 230.9L654.4 231.2L654.8 230.1Z"/>
<path fill="#fdd49e" d="M636.6 256.1L636.1 260.3L635.5 262.5L633.9 260.3L633.3 258.3L634 255.7L635.4 253.8L636.6 254.5Z"/>
<path fill="#fdbb84" d="M588.3 267.1L587.2 268.2L585.6 268.4L585 271.2L584.1 271.6L585.5 273.9L587.2 275.8L588.4 277.6L587.8 279.8L587.1 280.3L587.8 281.6L589.5 283.7L589.9 285.2L590 286.4L591.1 288.8L590.1 291.2L589.2 293.9L588.8 291.9L589.3 289.9L588.5 288.4L588.4 285.6L587.3 284.2L586.2 281.1L585.4 277.8L584.1 275.6L582.8 276.9L580.5 278.8L579.2 278.6L577.7 277.9L578 274.7L577.2 272.3L575 269.2L575.2 268.3L573.8 268L571.9 265.8L571.5 263.7L572.3 264.2L572.1 262.3L573.1 261.6L572.7 260.5L573.1 259.7L572.8 256.9L574.6 257.5L575.3 255.4L575.1 254.1L576 251.9L575.6 250.4L578.1 248.6L579.8 249.1L579.2 247.5L579.9 247L579.5 246L580.8 245.8L581.9 247.4L583 248L583.5 250L583.9 252.1L582.2 254.3L582.5 257.4L584.8 257L585.7 259.4L587.2 259.9L586.9 262.1L588.7 263.1L589.8 263.5L591.3 262.8L591.6 263.8L589.9 265.5L589.6 266.5Z"/>
<path fill="#fdbb84" d="M597.9 288L595.8 286.8L593.8 286.8L593.9 284.8L591.9 284.8L592 287.7L591.1 291.5L590.5 293.8L590.8 295.7L592.3 295.8L593.4 298.1L594 300.4L595.4 301.9L596.7 302.2L598 303.6L597.3 304.6L595.8 304.9L595.6 303.6L593.6 302.5L593.3 302.9L592.3 301.9L591.8 300.6L590.5 299.2L589.3 297.9L589.1 299.5L588.5 298L588.7 296.4L589.2 293.9L590.1 291.2L591.1 288.8L590 286.4L589.9 285.2L589.5 283.7L587.8 281.6L587.1 280.3L587.8 279.8L588.4 277.6L587.2 275.8L585.5 273.9L584.1 271.6L585 271.2L585.6 268.4L587.2 268.2L588.3 267.1L589.6 266.5L590.6 267.3L591 268.9L592.6 269L592.4 271.7L592.8 274.1L595 272.5L595.7 273L597 272.9L597.4 272L599.1 272.2L601.2 274.3L601.7 276.9L603.8 279.2L604 281.4L603.4 282.6L601.2 282.2L598.3 282.7L597.1 284.8Z"/>
<path fill="#fef0d9" d="M603.4 282.6L604 281.4L603.8 279.2L601.7 276.9L601.2 274.3L599.1 272.2L597.4 272L597 272.9L595.7 273L595 272.5L592.8 274.1L592.4 271.7L592.6 269L591 268.9L590.6 267.3L589.6 266.5L589.9 265.5L591.6 263.8L591.8 264.5L593.1 264.5L592.3 261.5L593.4 261.2L595 263.2L596.4 265.6L599.2 265.6L600.4 267.9L599.1 268.6L598.6 269.5L601.5 271.1L603.9 274.1L605.7 276.5L607.6 278.3L608.4 280.1L608.3 282.7L606.2 281.8L605.4 283.6Z"/>
<path fill="#fef0d9" d="M600.4 292.1L599.3 290.7L597.9 288L597.1 284.8L598.3 282.7L601.2 282.2L603.4 282.6L605.4 283.6L606.2 281.8L608.3 282.7L609.1 284.5L609.1 287.6L605.5 289.6L606.6 291.2L604.2 291.4L602.3 292.4Z"/>
<path fill="#fdbb84" d="M607 263.6L604.4 265.8L602.9 268.2L602.6 270L604.8 272.8L607.4 276.2L609.7 277.8L611.4 279.9L613.1 284.7L613.2 289.3L611.5 291.1L609 292.8L607.3 294.9L604.6 297.4L603.7 295.7L604.2 293.9L602.3 292.4L604.2 291.4L606.6 291.2L605.5 289.6L609.1 287.6L609.1 284.5L608.3 282.7L608.4 280.1L607.6 278.3L605.7 276.5L603.9 274.1L601.5 271.1L598.6 269.5L599.1 268.6L600.4 267.9L599.2 265.6L596.4 265.6L595 263.2L593.4 261.2L594.5 260.5L596.3 260.5L598.4 260.2L600.1 258.9L601.3 259.8L603.5 260.3L603.4 261.8L604.6 262.9Z"/>
<path fill="#fdd49e" d="M595.6 303.6L595.8 304.9L597.3 304.6L598 303.6L598.6 303.8L600 305.4L601 307.1L601.2 308.9L601 310.1L601.3 311L601.5 312.5L602.3 313.2L603.3 315.5L603.3 316.4L601.6 316.6L599.4 314.7L596.6 312.6L596.3 311.3L594.9 309.5L594.5 307.3L593.7 305.9L593.8 304L593.3 302.9L593.6 302.5ZM636.2 308.1L634.5 309L632.5 308.6L629.8 308.6L629.2 311.5L628.3 312.4L627.2 316.1L625.4 316.6L623.2 315.9L622.1 316.1L620.7 317.5L619.3 317.2L617.8 317.8L616.2 316.3L615.8 314.6L617.5 315.5L619.2 315L619.6 312.8L620.6 312.3L623.4 311.7L624.9 309.6L626 308L627.1 309.3L627.5 308.4L628.6 308.5L628.6 305.6L628.7 305.6L630.4 303.8L631.5 301.7L632.4 301.7L633.6 303L633.8 304.2L635.4 304.9L637.3 305.7L637.2 306.7L635.7 306.8Z"/>
<path fill="#fef0d9" d="M626 308L626.9 307L628.7 305.6L628.6 305.6L628.6 308.5L627.5 308.4L627.1 309.3Z"/>
<path fill="#fc8d59" d="M606.5 335.1L604 335.1L602.1 333L599.2 330.8L598.3 329.2L596.7 327.1L595.6 325.2L593.9 321.5L591.8 319.3L591.2 317.1L590.3 315L588.2 313.4L586.9 311.2L585.1 309.7L582.6 306.8L582.3 305.5L583.8 305.6L587.4 306.1L589.5 308.7L591.4 310.4L592.7 311.5L595 314.3L597.3 314.4L599.3 316.1L600.6 318.3L602.4 319.5L601.5 321.7L602.8 322.6L603.6 322.6L604 324.4L604.7 325.9L606.4 326.1L607.5 327.8L606.8 331ZM612.8 337.5L617.2 337.8L617.8 336.7L622 337.9L622.7 339.6L626.2 340.1L628.9 341.6L626.2 342.6L623.7 341.6L621.6 341.7L619.3 341.5L617.2 341L614.6 340L612.9 339.7L611.9 340.1L607.8 339L607.4 337.9L605.4 337.7L607 335.2L609.9 335.3L611.6 336.4L612.6 336.6ZM634.5 309L633.3 311.4L635.1 313.8L634.7 315L637.3 317.5L634.6 317.8L633.8 319.5L633.9 321.9L631.7 323.7L631.6 326.3L630.5 330.3L630.2 329.4L627.5 330.5L626.7 328.9L625.1 328.8L624 327.9L621.2 328.9L620.4 327.6L618.9 327.8L617 327.4L616.7 324L615.6 323.2L614.5 321L614.2 318.7L614.4 316.3L615.8 314.6L616.2 316.3L617.8 317.8L619.3 317.2L620.7 317.5L622.1 316.1L623.2 315.9L625.4 316.6L627.2 316.1L628.3 312.4L629.2 311.5L629.8 308.6L632.5 308.6ZM651.7 316.1L649.9 318.7L648.2 319.2L645.9 318.7L642.1 318.8L640.1 319.2L639.7 321.2L641.8 323.5L643.1 322.3L647.4 321.4L647.2 322.6L646.1 322.2L645.1 323.8L643.1 324.8L645.1 328.1L644.7 329L646.6 332L646.5 333.7L645.2 334.5L644.4 333.6L645.6 331.4L643.3 332.5L642.8 331.7L643.1 330.7L641.5 329.2L641.8 326.7L640.2 327.4L640.3 330.5L640.2 334.2L638.7 334.6L637.8 333.8L638.5 331.4L638.3 328.9L637.3 328.9L636.7 327.1L637.7 325.4L638.1 323.3L639.3 319.4L639.7 318.3L641.7 316.4L643.5 317.2L646.4 317.5L649 317.4L651.3 315.5ZM687.9 326.6L686.8 343.6L685 341.5L682.8 340.9L682.1 341.7L679.2 341.8L680.4 339.6L681.9 338.9L681.5 336.1L680.5 333.9L676.1 331.7L674.3 331.4L670.9 329L670.2 330.3L669.3 330.5L668.8 329.6L668.8 328.4L667.1 327.2L669.7 326.2L671.3 326.3L671.1 325.6L667.8 325.6L666.9 324L664.8 323.5L663.9 322.3L667 321.6L668.2 320.8L671.9 321.8L672.2 322.8L672.8 327L675.1 328.6L677.1 325.8L679.8 324.2L681.9 324.2L683.8 325.2L685.5 326.1ZM650.1 343L650.2 343.5L650.2 344.3L648.5 346.3L646.5 346.8L646.3 346.5L646.6 345.6L647.7 344ZM641.8 342.1L643.3 341.9L645.5 340.9L645 342.4L641.5 343.1L638.5 342.8L638.5 341.8L640.4 341.3ZM634.7 341.6L636.2 341.4L636.7 342.5L634 343.1L632.4 343.4L631.1 343.4L632 341.9L633.3 341.9L634 340.9ZM640.2 345.8L639.5 345L638.3 344.2L636.1 344.8L638.1 346.2L639 346.6ZM659.7 316.9L659.6 319.1L658.4 318.9L658 320.5L659 321.8L658.3 322.1L657.4 320.5L656.7 317.2L657.1 315.1L657.8 314.1L658 315.5L659.4 315.8ZM663.6 327.9L664.4 329.9L662.5 328.8L660.6 328.6L659.2 328.8L657.7 328.6L658.3 327.2L661.1 327.1ZM656.2 328.8L655.2 329.7L653.7 329.2L653.3 328.1L655.6 328ZM671.6 334.7L673 334.2L672.9 337L671.7 337.5Z"/>
<path fill="#fef0d9" d="M650.1 343L650.4 342.4L652.4 341.8L654 341.7L654.8 341.4L655.6 341.7L654.7 342.4L652.2 343.6L650.2 344.3L650.2 343.5Z"/>
<path fill="#fdbb84" d="M638.4 271.5L640 272.2L640.5 271.6L640.9 272.2L640.7 273.3L641.8 275.2L641.5 277.4L640.3 278.2L640.3 280.3L641.1 282.4L642.3 282.7L643.3 282.4L646.3 283.8L646.3 285.2L647.1 285.9L647 287.1L645.1 285.8L644.1 284.4L643.6 285.4L642 283.8L639.9 284.2L638.7 283.6L638.7 282.6L639.3 281.9L638.6 281.3L638.4 282.2L637.1 280.7L636.6 279.6L636.1 277.1L637.2 278L636.7 273.9L637.1 271.5ZM653.4 297.8L653.8 299.6L654 301L653.4 303.4L652.3 300.8L651.3 302.1L652.2 304L651.6 305.2L648.8 303.7L648.1 301.8L648.7 300.6L647.1 299.4L646.5 300.4L645.4 300.3L643.8 301.8L643.4 301L644.1 298.8L645.5 298.1L646.7 297.1L647.6 298.3L649.3 297.6L649.6 296.4L651.2 296.3L650.9 294.3L652.8 295.6L653.2 296.9ZM637.5 292.3L636.2 293.7L635.1 295.5L632.2 298L633.2 296.1L634.8 294.5L636 292.7L636.9 290.1ZM647.5 287L649.7 287.1L650.4 288.1L651.4 291L649.5 290.3L649.7 291.1L650.4 292.8L649.4 293.4L649.1 291.5L648.4 291.4L647.9 289.8L649.2 290L649.1 289ZM647.5 293L646.7 293.8L646.1 295.5L645.5 296.3L643.9 294.5L644.3 293.8L644.8 293L644.9 291.4L646.2 291.2L646 293L647.4 290.5ZM642.2 288.8L643.7 289.6L645.1 289.6L645.2 290.6L644.3 291.8L642.9 292.5L642.7 291.3L642.7 290ZM638.2 284.6L640.1 284.7L641 285.7L640.7 287.9L639.6 286.7Z"/>
<path fill="#fef0d9" d="M687.9 326.6L691.9 328.4L696 329.9L697.5 331.2L698.8 332.5L699 334.1L702.7 335.7L703.2 337.1L701.1 337.3L701.4 339.1L703.3 340.8L704.6 343.6L705.9 343.5L705.7 344.6L707.4 345.1L706.7 345.6L709 346.7L708.6 347.4L707.1 347.6L706.6 346.9L704.7 346.6L702.4 346.2L700.8 344.6L699.7 343.1L698.7 340.9L695.8 339.7L693.8 340.5L692.3 341.3L692.4 343.2L690.5 344.2L689.3 343.7L686.9 343.6ZM713.4 330.6L713.8 331L713.7 332.5L712.8 334.1L711.6 334.3L711.2 335L709.9 335.7L708.7 336.3L707.4 336.3L705.6 335.5L704.3 334.8L704.6 334L706.6 334.4L707.9 334.2L708.3 332.9L708.7 332.9L708.8 334.2L710.1 334.1L710.8 333.1L712.2 332.2L712 330.7ZM710.2 327L711.9 326.6L713.8 328.3L715.5 330.2L715.6 331.5L714.9 332.3L714.5 330.7L714.1 329.7L713.1 328.8L711.8 327.7ZM719.2 333.7L719.9 334.3L720.9 336L721.9 336.9L721.5 337.6L720.9 337.9L720 336.9L719.1 335.2L718.7 333.2L719 333ZM700.9 325L702.7 325L702.3 325.5L700.9 325.5Z"/>
<path fill="#fdd49e" d="M691.2 355.7L691.7 357.8L693.3 356.8L693.9 357.9L694.8 358.9L694.4 360.1L694.5 362.3L694.6 363.6L695.1 363.9L695.2 366.2L694.7 367.5L695.1 369.3L697.2 370.6L698.6 371.9L699.8 373L699.4 373.6L700.3 375.3L700.6 378.1L701.6 377.5L702.2 378.7L702.9 378.3L702.6 381L703.8 382.7L704.5 383.6L705.7 385.8L705.7 387.8L705.2 389.3L704.5 391L704.8 393.2L703.8 395.5L703 396.7L701.4 399L700.8 400.5L699.5 402.4L697.5 404.8L695.3 406L693.5 408.1L692.1 409.4L690.3 411.6L688.8 412.9L687.2 414.9L686 416.7L685.6 417.5L683.9 418.4L681.4 418.5L678.9 419.5L677.3 420.6L675.4 421.7L674.3 420.5L673.2 420.1L674.3 418.7L672.9 419.2L669.9 421.1L668.5 420.4L667.5 420L666.4 419.8L664.7 419L664.1 417.4L664.8 415.4L665.4 413.1L664.4 413.1L662.4 412.7L663.7 411.5L664.1 409.5L662.2 411.4L660.1 411.8L661.9 410.4L662.9 408.9L664.3 407.6L665 405.7L662.2 407.9L660.5 408.8L658.7 410.9L657.5 409.8L658.2 408.4L657.6 406.5L656.9 405.5L657.5 404.9L655.4 403.4L653.9 403.3L652.2 402L648.2 402.3L644.7 403.9L642.1 404.1L640.1 403.9L637.3 405.2L635.1 405.8L634.2 407.2L633 408.3L631.1 408.3L629.6 408.5L627.9 408.1L626.2 408.4L624.6 408.5L622.8 409.9L622.2 409.7L620.8 410.5L619.4 411.3L617.9 411.2L616.5 411.2L614.8 409.6L613.8 409.1L614.4 407.6L615.6 407.2L616.2 406.6L616.5 405.7L617.4 403.9L617.7 402.3L617.4 399.7L617.5 398.2L618 396.7L617.6 395L617.8 394.2L617.1 393.2L617.4 391.1L616.6 389.1L616.6 388L617.3 389.1L617.1 386.7L618.1 387.4L618.5 388.4L618.8 387.1L618.1 385.1L618.1 384.2L617.7 383.4L618.3 381.9L618.9 381.3L619.4 380L619.4 378.5L620.7 376.6L620.5 378.6L621.8 376.8L623.8 375.9L625.1 374.8L627 373.8L628 373.6L628.6 374L630.6 373L632 372.7L632.4 372.1L633.1 371.9L634.3 372L636.8 371.2L638.3 370L639.1 368.6L640.7 367.3L641 366.3L641.2 364.8L643.2 362.6L643.8 364.9L644.9 364.4L644.2 363.1L645.2 361.9L646.1 362.4L646.7 360.4L648.1 359.2L648.8 358.1L650 357.7L650.2 356.9L651.1 357.3L651.2 356.6L652.3 356.2L653.5 355.9L655 357.1L656 358.6L657.5 358.6L658.9 358.9L658.6 357.4L660 355.4L661.1 354.7L660.8 354L662 352.5L663.5 351.6L664.7 351.9L666.6 351.4L666.8 350.1L665.2 349.2L666.4 348.9L667.9 349.5L669 350.6L670.8 351.2L671.5 351L672.8 351.8L674.3 351L675.1 351.3L675.7 350.8L676.6 352L675.8 353.4L674.8 354.5L674 354.6L674.1 355.6L673.2 356.9L672.2 358.2L672.3 359L673.9 360.4L675.5 361.2L676.5 362.1L677.8 363.7L678.5 363.7L679.6 364.3L679.7 365.1L681.8 366L683.4 365.1L684.1 363.7L684.8 362.6L685.4 361.1L686.4 359.1L686.3 357.8L686.6 357L686.5 355.6L687.1 353.6L687.6 353.1L687.4 352.2L688.1 350.8L688.8 349.4L688.9 348.6L689.9 347.7L690.4 348.9L690.3 350.5L690.9 350.9L690.8 352L691.4 353.3L691.4 354.8ZM670.7 426.2L672.1 427.1L673.5 426.8L675.5 426.3L676.7 426.4L674.8 429.5L673.5 430.4L671.8 432.5L671.6 431.8L668.9 433.5L668.6 433.4L667.4 433.3L667.6 431.1L668.4 429.4L668.6 427.2L669.4 426ZM659.2 412.7L661.3 412.7L662 413.5L660.3 414L658.7 413.8ZM661.6 349.6L664 349.3L663.1 350.9L661.7 350.6Z"/>
<path fill="#fef0d9" d="M738.7 424.3L736.9 425.7L734.5 427.5L732 428.5L732.2 427.9L731.6 427.5L734.4 425.4L734.8 423.9L733.2 422.9L733.9 422L736.1 421.1L737.8 419L738.8 417.4L739.1 415.6L739.4 415.1L739.1 414.1L738.7 411.8L738.9 409.9L739.9 409.7L740.2 411.2L741.5 411.9L740.7 414.2L740.5 416.9L741.7 415.1L742.2 415.8L741.3 417.8L742.4 418.7L743.7 418.9L745.6 417.9L746.5 418.2L744.4 420.5L742.7 422L741.1 422L740 422.7L739.4 423.9ZM716.6 433.4L719.4 432L721.8 430.7L724.2 428.7L725.5 428.1L726.9 426.7L729.2 425.4L728.9 426.5L728.6 427.6L730.8 426.6L730.6 427.7L729.8 428.7L728.1 429.9L725.2 431.8L723.3 432.9L723.1 434.1L721.4 434.2L718.9 435.1L716.9 436.8L713.6 439.4L711 440.6L709.4 441.3L707.6 441.2L706.9 440.4L704.9 440.2L705.3 439.2L707.9 437.4L712.6 434.8L714.3 434.3Z"/>
<path fill="url(#hatch)" d="M737.7 374.8L739.2 376.4L740 377.6L739 378.3L737.9 377.6L736.6 376.4L735.5 375L734.5 373.2L734.4 372.3L735.3 372.3L736.4 373.2L737.2 374.1Z"/>
<path fill="#fef0d9" d="M734.9 347.2L735.4 348.1L733.8 348L733.1 346.4L734.4 347.1ZM729.5 345L729.7 343.9L731.2 344.3L731.9 344.9L732.2 345.6L729.9 345.4ZM734.2 344.9L733.8 345.3L732.3 343.1L732 341.5L732.8 341.5L733.4 343.6ZM730.4 341.6L730.4 342.1L727.6 340L726.8 339.2L727.1 338.9L728.1 339.5ZM725.2 339L724.8 339.1L723.8 338.5L723 337.5L723.1 337L724.4 338.1Z"/>
<path fill="#fef0d9" d="M745.3 362.8L744.5 363.1L744 362L744.2 361.3ZM744.5 358.8L744.4 360.9L743.3 360.7L743.2 360L743.5 358ZM745.5 365.5L746.1 365.7L745.5 366.4ZM747 368.6L747.3 369.1L746.6 369.4Z"/>
<path fill="#fef0d9" d="M768.7 365.1L769.3 365.8L768.6 367.2L767.1 367.5L765.9 367.2L766 366.1L767.1 365.2ZM771.3 363.7L769.7 364.2L769.7 363.2L771 362.7L771.7 362.6L773.2 361.7L772.9 363Z"/>
<path fill="#fef0d9" d="M222.1 277.5L222.8 276.7L223.4 277.5L222.7 278.3ZM222.5 279.6L223.1 279L223.6 279.6L223 280.2ZM223.1 281.6L223.8 280.8L224.3 281.6L223.7 282.3ZM223.1 283.5L223.7 282.9L224.1 283.5L223.6 284.1ZM226.3 285.5L226.8 284.9L227.3 285.5L226.7 286.1ZM222.5 285.2L223 284.6L223.5 285.2L223 285.8ZM221.2 288.2L221.7 287.6L222.2 288.2L221.7 288.8ZM221.9 275.2L222.4 274.6L222.9 275.2L222.3 275.7ZM219.8 274.6L220.3 274.1L220.8 274.6L220.2 275.2Z"/>
<path fill="#fef0d9" d="M671.8 300.5L672.2 299.9L672.8 300.5L672.3 301.1ZM693.6 284.7L694.1 284.1L694.6 284.7L694.2 285.3ZM711.5 300.5L712 299.9L712.5 300.5L712.1 301.1ZM726.4 301.8L726.8 301.2L727.4 301.8L726.9 302.4ZM737.7 306L738.2 305.4L738.7 306L738.3 306.5ZM756.2 301.3L756.7 300.7L757.2 301.3L756.8 301.8ZM761.3 316.1L761.8 315.6L762.3 316.1L761.8 316.7ZM747.3 321.1L747.8 320.5L748.3 321.1L747.8 321.7ZM774.2 342L774.8 341.4L775.2 342L774.7 342.6Z"/>
</g>
<!-- legend -->
<g>
<text class="lg" x="233" y="530.3" text-anchor="middle">No data</text>
<line x1="233" y1="534.3" x2="233" y2="537" stroke="#999" stroke-width="0.6"/>
<rect x="209.6" y="537.2" width="47" height="11" fill="url(#hatch)" stroke="#999" stroke-width="0.6"/>
<g stroke="#8f8f8f" stroke-width="0.5">
<rect x="276.4" y="537.2" width="60.8" height="11" fill="#fef0d9"/>
<rect x="337.2" y="537.2" width="60.4" height="11" fill="#fdd49e"/>
<rect x="397.6" y="537.2" width="60.6" height="11" fill="#fdbb84"/>
<rect x="458.2" y="537.2" width="60.8" height="11" fill="#fc8d59"/>
<rect x="519" y="537.2" width="60.7" height="11" fill="#e34a33"/>
<rect x="579.7" y="537.2" width="60.8" height="11" fill="#b30000"/>
<path d="M276.4 534.3V537.2M337.2 534.3V537.2M397.6 534.3V537.2M458.2 534.3V537.2M519 534.3V537.2M579.7 534.3V537.2M640.5 534.3V537.2" fill="none"/>
</g>
<text class="lg" x="276.6" y="530.3" text-anchor="middle">0</text>
<text class="lg" x="337.3" y="530.3" text-anchor="middle">10,000</text>
<text class="lg" x="397.6" y="530.3" text-anchor="middle">30,000</text>
<text class="lg" x="458.5" y="530.3" text-anchor="middle">100,000</text>
<text class="lg" x="519" y="530.3" text-anchor="middle">300,000</text>
<text class="lg" x="579.9" y="530.3" text-anchor="middle">1 million</text>
<text class="lg" x="640.5" y="530.3" text-anchor="middle">3 million</text>
</g>
<!-- footer -->
<text class="ft" x="16.5" y="581" font-weight="bold" textLength="72" lengthAdjust="spacingAndGlyphs">Data source:</text>
<text class="ft" x="92" y="581" textLength="224" lengthAdjust="spacingAndGlyphs">IHME, Global Burden of Disease (2025)</text>
<text class="ft" x="570.5" y="581" textLength="260.5" lengthAdjust="spacingAndGlyphs">OurWorldinData.org/causes-of-death | CC BY</text>
</svg>
</body></html>
